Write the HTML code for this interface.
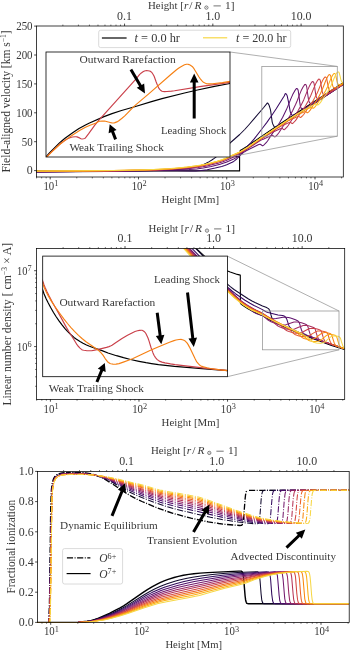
<!DOCTYPE html><html><head><meta charset="utf-8"><style>html,body{margin:0;padding:0;background:#fff;}svg{display:block;will-change:transform;}</style></head><body><svg width="350" height="651" viewBox="0 0 350 651" font-family="&apos;Liberation Serif&apos;, serif" fill="#383838">
<rect width="350" height="651" fill="#fff"/>
<defs><clipPath id="c1"><rect x="36.2" y="26" width="307.1" height="150.8"/></clipPath><clipPath id="c2"><rect x="36.1" y="248.5" width="308.6" height="150.8"/></clipPath><clipPath id="c3"><rect x="37.1" y="471.4" width="312.1" height="151"/></clipPath><clipPath id="i1"><rect x="46" y="52" width="184" height="105"/></clipPath><clipPath id="i2"><rect x="42.7" y="256.1" width="184.7" height="120.6"/></clipPath></defs>
<g clip-path="url(#c1)">
<path d="M230.0,156.6l9.6,.0l.0,14.3l-203.4,.0" fill="none" stroke="#000" stroke-width="1.1" stroke-linejoin="round" />
<path d="M239.6,155.6l.6,-5.1l3.5,-2.0l3.5,-2.2l13.5,-9.4l23.0,-15.4l59.5,-38.8" fill="none" stroke="#000" stroke-width="1.1" stroke-linejoin="round" />
<path d="M36.2,171.8l32.0,-.1l39.5,-.3l24.5,-.4l22.5,-.5l18.5,-.8l12.5,-1.0l3.0,-.3l3.0,-.6l3.5,-.7l3.5,-1.0l2.5,-.7l2.5,-1.0l2.5,-1.2l3.0,-1.6l3.0,-1.8l2.0,-1.4l2.0,-1.6l2.5,-2.2l4.5,-4.4l8.0,-8.2l8.5,-7.5l2.5,-2.5l2.5,-2.5l4.5,-5.0l5.0,-5.8l9.5,-11.2l3.5,-4.4l.5,.0l.5,.6l.5,.9l.5,1.0l1.0,3.3l.5,2.2l1.5,11.0l.5,1.6l1.0,2.2l.5,.7l.5,.4l.5,.0l1.0,-.1l1.5,-.5l2.0,-.9l3.5,-2.0l4.0,-2.5l12.5,-8.0l43.5,-28.5" fill="none" stroke="#140b34" stroke-width="1.05" stroke-linejoin="round" />
<path d="M36.2,172.3l40.5,-.7l81.5,-.9l19.0,.0l13.5,.3l5.0,.0l5.5,-.4l6.0,-.9l8.0,-1.6l6.5,-1.6l3.0,-.9l2.0,-.8l5.5,-2.5l1.0,-.5l1.5,-1.1l2.0,-1.7l4.0,-4.2l5.5,-7.1l5.0,-5.3l3.0,-3.5l9.0,-11.7l3.5,-4.6l5.0,-7.1l4.5,-6.8l7.5,-11.9l.5,-.9l1.0,-2.1l.5,-.2l.5,.4l.5,.7l.5,1.2l1.5,6.9l1.5,8.8l.5,1.4l1.0,1.7l.5,.5l.5,.2l.5,-.1l2.0,-.7l2.5,-1.1l5.0,-2.9l4.5,-2.7l36.0,-23.5" fill="none" stroke="#390963" stroke-width="1.05" stroke-linejoin="round" />
<path d="M36.2,171.9l73.0,-.7l22.0,-.3l39.5,-.9l18.5,-.6l7.5,-.5l6.5,-.8l8.0,-1.6l5.0,-1.2l4.0,-1.1l3.5,-1.1l2.5,-.8l7.5,-3.3l2.5,-1.4l4.0,-2.6l4.5,-3.3l1.5,-1.0l12.0,-5.9l1.5,-.6l.5,.0l.5,.3l1.5,1.2l.5,.1l1.0,-.7l1.0,-.9l1.5,-1.5l1.5,-2.0l4.0,-6.2l5.0,-7.0l3.0,-4.9l3.0,-5.4l3.5,-7.1l1.5,-3.5l3.0,-7.5l2.0,-4.5l2.0,-3.7l1.5,-2.1l.5,-.3l.5,.2l.5,.5l.5,1.3l1.0,7.1l.5,4.3l.5,3.2l.5,2.0l.5,1.2l.5,.2l1.0,.1l1.5,-.4l3.0,-1.3l4.5,-2.3l4.0,-2.3l27.5,-18.0" fill="none" stroke="#5f136e" stroke-width="1.05" stroke-linejoin="round" />
<path d="M36.2,171.7l65.0,-.5l19.5,-.3l31.0,-.6l20.0,-.7l17.0,-1.1l5.0,-.5l4.5,-.5l4.5,-.7l4.5,-.9l5.5,-1.3l5.5,-1.4l4.5,-1.4l3.5,-1.3l8.0,-3.8l3.5,-1.8l4.0,-2.3l17.0,-11.1l2.0,-1.1l2.0,-1.0l8.0,-3.6l1.5,-.5l.5,.0l1.5,1.3l.5,.3l.5,-.2l.5,-.4l2.0,-2.0l1.5,-2.0l3.5,-5.6l4.5,-6.5l3.0,-5.0l2.5,-4.7l3.0,-6.2l1.5,-3.6l2.5,-6.6l1.5,-3.5l2.0,-3.9l1.5,-2.1l.5,-.2l.5,.2l.5,.6l.5,1.6l1.5,10.9l.5,2.7l.5,1.7l.5,.9l1.0,.2l1.5,-.3l2.5,-1.0l3.0,-1.6l5.0,-2.7l2.5,-1.5l18.0,-11.8" fill="none" stroke="#84206b" stroke-width="1.05" stroke-linejoin="round" />
<path d="M36.2,171.5l38.0,-.2l40.5,-.4l34.0,-.7l16.0,-.6l8.0,-.5l7.0,-.5l9.0,-.9l7.0,-.8l5.0,-.8l4.5,-.9l5.5,-1.3l6.0,-1.6l5.0,-1.5l4.0,-1.5l6.0,-2.9l6.0,-2.5l3.0,-1.5l3.0,-1.7l3.0,-1.9l10.5,-7.1l4.0,-2.6l8.5,-5.2l3.5,-1.9l7.0,-3.2l1.5,-.5l.5,.1l1.5,1.2l.5,.1l.5,-.3l2.0,-2.0l1.5,-1.9l3.5,-5.5l4.0,-5.5l2.5,-4.0l2.5,-4.6l3.0,-6.0l4.0,-10.0l1.5,-3.3l1.5,-2.8l1.0,-1.5l.5,-.6l.5,-.1l.5,.2l.5,.6l.5,1.8l1.5,10.1l.5,2.1l.5,1.4l.5,.6l.5,.1l1.0,-.1l2.0,-.7l2.5,-1.2l4.0,-2.2l5.0,-2.9l11.0,-7.2" fill="none" stroke="#a82e5f" stroke-width="1.05" stroke-linejoin="round" />
<path d="M36.2,171.4l37.5,-.2l40.5,-.4l33.0,-.7l8.0,-.2l8.5,-.4l8.5,-.5l6.5,-.5l9.5,-.9l7.0,-.9l5.5,-.8l4.5,-.9l5.5,-1.3l6.0,-1.6l5.0,-1.5l4.0,-1.5l6.5,-3.1l6.5,-2.8l3.0,-1.5l3.0,-1.8l3.5,-2.2l13.5,-9.5l14.0,-8.9l3.0,-1.8l2.0,-1.1l3.0,-1.5l6.0,-2.6l.5,-.1l.5,.2l1.0,.9l.5,.3l.5,-.2l.5,-.4l2.0,-2.1l1.0,-1.3l3.0,-4.6l4.0,-5.5l2.5,-4.1l2.5,-4.5l2.5,-5.1l3.5,-8.7l1.5,-3.3l1.5,-2.8l1.0,-1.4l.5,-.5l.5,.0l.5,.3l.5,.8l.5,2.4l1.5,9.0l.5,1.6l.5,1.0l.5,.2l1.0,.0l1.0,-.3l2.0,-.8l2.0,-1.0l7.5,-4.3l6.0,-3.9" fill="none" stroke="#ca404a" stroke-width="1.05" stroke-linejoin="round" />
<path d="M36.2,171.3l37.0,-.2l40.5,-.4l31.5,-.6l9.0,-.3l8.5,-.4l8.5,-.5l6.5,-.5l10.0,-1.0l7.5,-.9l5.5,-.8l4.5,-.9l5.5,-1.3l6.0,-1.6l5.0,-1.5l4.0,-1.5l6.5,-3.1l6.5,-2.8l4.0,-2.1l5.5,-3.4l12.0,-8.5l13.0,-8.7l9.5,-6.1l4.5,-2.8l2.0,-1.1l3.0,-1.4l5.0,-2.2l1.0,-.4l.5,.0l1.5,1.1l.5,.0l.5,-.4l1.5,-1.4l1.0,-1.1l3.5,-5.3l3.5,-4.7l2.0,-3.1l2.0,-3.6l2.5,-4.8l1.0,-2.2l3.0,-7.4l1.0,-2.1l1.5,-2.7l1.0,-1.3l.5,-.3l.5,.1l.5,.3l.5,1.2l1.5,8.1l.5,1.9l.5,1.3l.5,.5l.5,.1l1.0,-.2l2.5,-1.0l3.5,-1.8l6.0,-3.5" fill="none" stroke="#e55c30" stroke-width="1.05" stroke-linejoin="round" />
<path d="M36.2,171.2l37.0,-.2l40.5,-.4l31.5,-.6l9.0,-.3l8.5,-.4l9.0,-.5l6.5,-.6l10.0,-1.0l7.5,-.9l5.0,-.8l5.0,-1.0l5.5,-1.3l6.0,-1.6l4.5,-1.4l4.0,-1.5l6.5,-3.1l7.0,-3.0l4.0,-2.2l5.0,-3.1l12.5,-8.8l20.5,-13.8l7.5,-4.8l7.5,-4.5l3.0,-1.5l6.0,-2.4l.5,.0l.5,.3l1.0,1.0l.5,-.1l1.0,-.9l1.5,-1.7l3.0,-4.8l3.0,-4.2l2.0,-3.3l2.0,-3.8l2.0,-4.2l3.5,-9.0l1.0,-2.3l1.0,-2.0l.5,-.8l.5,-.7l.5,-.4l.5,.1l.5,.2l.5,.9l1.0,4.8l.5,2.9l.5,2.2l.5,1.3l.5,.7l1.0,.0l1.5,-.4l3.0,-1.4l4.0,-2.2" fill="none" stroke="#f68013" stroke-width="1.05" stroke-linejoin="round" />
<path d="M36.2,171.1l37.0,-.2l40.5,-.4l30.5,-.6l9.5,-.3l8.5,-.4l9.0,-.5l6.0,-.5l10.5,-1.1l7.5,-1.0l5.5,-.8l4.5,-.9l5.5,-1.3l6.5,-1.7l4.5,-1.4l4.0,-1.5l6.5,-3.1l6.5,-2.8l3.0,-1.5l3.0,-1.8l3.5,-2.2l12.5,-8.8l25.5,-17.1l6.0,-3.9l6.5,-3.9l5.0,-2.9l7.0,-3.0l.5,-.2l.5,.0l1.0,.9l.5,.1l.5,-.3l1.5,-1.4l1.0,-1.3l2.5,-3.9l3.0,-4.0l2.0,-3.3l2.0,-3.6l2.0,-4.1l3.5,-8.5l1.5,-2.8l1.0,-1.4l.5,-.2l.5,.1l.5,.3l.5,1.3l1.5,6.9l.5,1.5l.5,.9l.5,.3l1.0,-.1l1.5,-.5l2.0,-1.0" fill="none" stroke="#fcaa0f" stroke-width="1.05" stroke-linejoin="round" />
<path d="M36.2,171.0l36.5,-.2l40.5,-.4l30.0,-.6l10.0,-.3l8.5,-.4l9.0,-.5l6.0,-.5l10.5,-1.1l8.0,-1.1l5.5,-.8l4.5,-.9l5.5,-1.3l6.5,-1.7l4.5,-1.4l4.0,-1.5l6.5,-3.1l6.5,-2.8l3.0,-1.5l3.0,-1.8l3.0,-1.9l13.0,-9.1l25.0,-16.7l9.0,-5.9l7.5,-4.6l6.5,-3.8l6.5,-2.8l1.0,-.3l1.5,1.0l.5,-.2l1.5,-1.5l1.0,-1.2l2.5,-3.8l3.0,-4.1l1.5,-2.4l1.5,-2.7l2.0,-3.9l1.0,-2.2l2.0,-5.0l1.5,-3.2l1.0,-1.7l.5,-.7l.5,-.4l.5,.0l.5,.1l.5,.7l1.0,3.9l.5,2.4l.5,1.7l.5,1.1l.5,.5l1.0,-.1" fill="none" stroke="#f6d746" stroke-width="1.05" stroke-linejoin="round" />
</g>
<rect x="261.8" y="66.4" width="75.5" height="69.8" stroke="#9a9a9a" stroke-width="0.8" fill="none" />
<line x1="230" y1="52" x2="337.3" y2="66.4" stroke="#9a9a9a" stroke-width="0.8" />
<line x1="230" y1="157" x2="337.3" y2="136.2" stroke="#9a9a9a" stroke-width="0.8" />
<rect x="46" y="52" width="184" height="105" stroke="none" stroke-width="0" fill="#fff" />
<g clip-path="url(#i1)">
<path d="M46.0,157.0l3.5,-4.0l3.0,-3.2l4.0,-4.0l3.0,-2.9l2.5,-2.2l3.0,-2.4l8.0,-5.8l3.0,-2.0l3.0,-1.9l6.5,-3.6l4.0,-2.0l14.5,-6.4l8.0,-3.0l9.5,-3.1l14.0,-4.0l16.0,-4.9l10.5,-2.9l22.5,-5.7l13.0,-3.0l17.0,-3.6l15.5,-2.9" fill="none" stroke="#000" stroke-width="1.2" stroke-linejoin="round" />
<path d="M46.0,157.5l5.5,-5.6l7.5,-7.1l2.0,-1.6l3.0,-2.2l2.0,-1.3l1.5,-.9l2.5,-1.1l1.5,-.5l1.0,-.2l2.5,-.2l1.0,.0l1.0,.1l2.5,1.0l1.5,.8l1.0,.3l1.5,-.2l1.0,-.3l.5,-.2l1.0,-1.1l2.5,-3.3l6.5,-9.1l3.5,-4.2l34.0,-37.8l4.0,-4.5l3.0,-3.7l1.5,-1.4l2.0,-1.4l1.5,-.8l1.0,-.3l1.0,-.1l1.5,.1l1.5,.3l1.0,.4l1.0,.8l.5,.5l1.0,1.5l1.0,1.8l.5,1.2l1.5,4.3l1.5,3.9l1.5,3.0l.5,.8l1.0,1.0l1.5,1.0l1.0,.3l1.5,.1l2.5,-.1l4.5,-.4l3.0,-.4l27.0,-4.3l28.5,-4.1" fill="none" stroke="#ca404a" stroke-width="1.15" stroke-linejoin="round" />
<path d="M46.0,157.8l5.0,-5.1l6.0,-5.7l3.0,-2.7l4.0,-3.2l5.5,-4.0l5.0,-3.4l5.5,-3.4l5.5,-3.0l4.5,-2.1l5.5,-2.0l3.0,-1.6l1.0,-.3l2.5,-.2l2.5,-.1l1.0,.2l5.5,1.5l1.0,.2l1.0,.1l1.0,-.1l1.0,-.3l2.5,-1.0l1.0,-.6l3.5,-2.7l2.5,-2.2l2.5,-2.5l6.0,-6.2l3.0,-2.8l13.0,-11.0l21.0,-18.4l6.5,-5.5l2.0,-1.5l2.0,-1.3l4.0,-2.1l1.0,-.3l1.0,-.3l1.5,.1l1.0,.3l1.0,.5l1.5,.9l1.0,.7l.5,.6l1.0,1.4l5.0,8.3l1.5,2.1l1.5,1.8l1.0,1.0l1.5,.9l1.0,.5l1.0,.3l2.0,.3l1.5,.0l2.5,-.1l10.0,-1.2l7.5,-1.3" fill="none" stroke="#f68013" stroke-width="1.15" stroke-linejoin="round" />
</g>
<rect x="46" y="52" width="184" height="105" stroke="#000" stroke-width="0.8" fill="none" />
<text x="79.5" y="62.6" font-size="11.4" text-anchor="start" textLength="96.1" lengthAdjust="spacingAndGlyphs" >Outward Rarefaction</text>
<text x="160.9" y="133.9" font-size="11.4" text-anchor="start" textLength="65.6" lengthAdjust="spacingAndGlyphs" >Leading Shock</text>
<text x="69.4" y="150.5" font-size="11.4" text-anchor="start" textLength="94.4" lengthAdjust="spacingAndGlyphs" >Weak Trailing Shock</text>
<polygon points="129.61,70.16 139.15,86.4 136.73,87.82 145,93.4 144.15,83.46 141.73,84.88 132.19,68.64" fill="#000"/>
<polygon points="195.7,118.4 195.7,82.4 198.5,82.4 194.2,73.4 189.9,82.4 192.7,82.4 192.7,118.4" fill="#000"/>
<polygon points="117,138.86 113.99,131.12 116.6,130.1 109.7,124.2 108.59,133.21 111.2,132.2 114.2,139.94" fill="#000"/>
<rect x="98.7" y="30.2" width="192" height="17.4" rx="2" ry="2" fill="#fff" fill-opacity="0.8" stroke="#d0d0d0" stroke-width="0.8"/>
<line x1="101.9" y1="38" x2="126.6" y2="38" stroke="#000" stroke-width="1.2" />
<line x1="203" y1="37.8" x2="227.2" y2="37.8" stroke="#f6d746" stroke-width="1.2" />
<text x="134.6" y="42.0" font-size="11.6" textLength="45.4" lengthAdjust="spacingAndGlyphs"><tspan font-style="italic">t</tspan> = 0.0 hr</text>
<text x="236.0" y="42.0" font-size="11.6" textLength="50.5" lengthAdjust="spacingAndGlyphs"><tspan font-style="italic">t</tspan> = 20.0 hr</text>
<rect x="36.5" y="26" width="306.8" height="151" stroke="#000" stroke-width="0.75" fill="none" />
<line x1="36.53" y1="177" x2="36.53" y2="178.4" stroke="#000" stroke-width="0.55" />
<line x1="41.65" y1="177" x2="41.65" y2="178.4" stroke="#000" stroke-width="0.55" />
<line x1="46.16" y1="177" x2="46.16" y2="178.4" stroke="#000" stroke-width="0.55" />
<line x1="50.2" y1="177" x2="50.2" y2="179.4" stroke="#000" stroke-width="0.7" />
<line x1="76.77" y1="177" x2="76.77" y2="178.4" stroke="#000" stroke-width="0.55" />
<line x1="92.32" y1="177" x2="92.32" y2="178.4" stroke="#000" stroke-width="0.55" />
<line x1="103.34" y1="177" x2="103.34" y2="178.4" stroke="#000" stroke-width="0.55" />
<line x1="111.9" y1="177" x2="111.9" y2="178.4" stroke="#000" stroke-width="0.55" />
<line x1="118.89" y1="177" x2="118.89" y2="178.4" stroke="#000" stroke-width="0.55" />
<line x1="124.8" y1="177" x2="124.8" y2="178.4" stroke="#000" stroke-width="0.55" />
<line x1="129.92" y1="177" x2="129.92" y2="178.4" stroke="#000" stroke-width="0.55" />
<line x1="134.43" y1="177" x2="134.43" y2="178.4" stroke="#000" stroke-width="0.55" />
<line x1="138.47" y1="177" x2="138.47" y2="179.4" stroke="#000" stroke-width="0.7" />
<line x1="165.04" y1="177" x2="165.04" y2="178.4" stroke="#000" stroke-width="0.55" />
<line x1="180.59" y1="177" x2="180.59" y2="178.4" stroke="#000" stroke-width="0.55" />
<line x1="191.61" y1="177" x2="191.61" y2="178.4" stroke="#000" stroke-width="0.55" />
<line x1="200.17" y1="177" x2="200.17" y2="178.4" stroke="#000" stroke-width="0.55" />
<line x1="207.16" y1="177" x2="207.16" y2="178.4" stroke="#000" stroke-width="0.55" />
<line x1="213.07" y1="177" x2="213.07" y2="178.4" stroke="#000" stroke-width="0.55" />
<line x1="218.19" y1="177" x2="218.19" y2="178.4" stroke="#000" stroke-width="0.55" />
<line x1="222.7" y1="177" x2="222.7" y2="178.4" stroke="#000" stroke-width="0.55" />
<line x1="226.74" y1="177" x2="226.74" y2="179.4" stroke="#000" stroke-width="0.7" />
<line x1="253.31" y1="177" x2="253.31" y2="178.4" stroke="#000" stroke-width="0.55" />
<line x1="268.86" y1="177" x2="268.86" y2="178.4" stroke="#000" stroke-width="0.55" />
<line x1="279.88" y1="177" x2="279.88" y2="178.4" stroke="#000" stroke-width="0.55" />
<line x1="288.44" y1="177" x2="288.44" y2="178.4" stroke="#000" stroke-width="0.55" />
<line x1="295.43" y1="177" x2="295.43" y2="178.4" stroke="#000" stroke-width="0.55" />
<line x1="301.34" y1="177" x2="301.34" y2="178.4" stroke="#000" stroke-width="0.55" />
<line x1="306.46" y1="177" x2="306.46" y2="178.4" stroke="#000" stroke-width="0.55" />
<line x1="310.97" y1="177" x2="310.97" y2="178.4" stroke="#000" stroke-width="0.55" />
<line x1="315.01" y1="177" x2="315.01" y2="179.4" stroke="#000" stroke-width="0.7" />
<line x1="341.58" y1="177" x2="341.58" y2="178.4" stroke="#000" stroke-width="0.55" />
<line x1="62.86" y1="26" x2="62.86" y2="24.6" stroke="#000" stroke-width="0.55" />
<line x1="78.41" y1="26" x2="78.41" y2="24.6" stroke="#000" stroke-width="0.55" />
<line x1="89.43" y1="26" x2="89.43" y2="24.6" stroke="#000" stroke-width="0.55" />
<line x1="97.99" y1="26" x2="97.99" y2="24.6" stroke="#000" stroke-width="0.55" />
<line x1="104.98" y1="26" x2="104.98" y2="24.6" stroke="#000" stroke-width="0.55" />
<line x1="110.89" y1="26" x2="110.89" y2="24.6" stroke="#000" stroke-width="0.55" />
<line x1="116.01" y1="26" x2="116.01" y2="24.6" stroke="#000" stroke-width="0.55" />
<line x1="120.52" y1="26" x2="120.52" y2="24.6" stroke="#000" stroke-width="0.55" />
<line x1="124.56" y1="26" x2="124.56" y2="23.6" stroke="#000" stroke-width="0.7" />
<line x1="151.13" y1="26" x2="151.13" y2="24.6" stroke="#000" stroke-width="0.55" />
<line x1="166.68" y1="26" x2="166.68" y2="24.6" stroke="#000" stroke-width="0.55" />
<line x1="177.7" y1="26" x2="177.7" y2="24.6" stroke="#000" stroke-width="0.55" />
<line x1="186.26" y1="26" x2="186.26" y2="24.6" stroke="#000" stroke-width="0.55" />
<line x1="193.25" y1="26" x2="193.25" y2="24.6" stroke="#000" stroke-width="0.55" />
<line x1="199.16" y1="26" x2="199.16" y2="24.6" stroke="#000" stroke-width="0.55" />
<line x1="204.28" y1="26" x2="204.28" y2="24.6" stroke="#000" stroke-width="0.55" />
<line x1="208.79" y1="26" x2="208.79" y2="24.6" stroke="#000" stroke-width="0.55" />
<line x1="212.83" y1="26" x2="212.83" y2="23.6" stroke="#000" stroke-width="0.7" />
<line x1="239.4" y1="26" x2="239.4" y2="24.6" stroke="#000" stroke-width="0.55" />
<line x1="254.95" y1="26" x2="254.95" y2="24.6" stroke="#000" stroke-width="0.55" />
<line x1="265.97" y1="26" x2="265.97" y2="24.6" stroke="#000" stroke-width="0.55" />
<line x1="274.53" y1="26" x2="274.53" y2="24.6" stroke="#000" stroke-width="0.55" />
<line x1="281.52" y1="26" x2="281.52" y2="24.6" stroke="#000" stroke-width="0.55" />
<line x1="287.43" y1="26" x2="287.43" y2="24.6" stroke="#000" stroke-width="0.55" />
<line x1="292.55" y1="26" x2="292.55" y2="24.6" stroke="#000" stroke-width="0.55" />
<line x1="297.06" y1="26" x2="297.06" y2="24.6" stroke="#000" stroke-width="0.55" />
<line x1="301.1" y1="26" x2="301.1" y2="23.6" stroke="#000" stroke-width="0.7" />
<line x1="327.67" y1="26" x2="327.67" y2="24.6" stroke="#000" stroke-width="0.55" />
<line x1="36.5" y1="170.6" x2="34.1" y2="170.6" stroke="#000" stroke-width="0.7" />
<text x="32.6" y="174.4" font-size="11.9" text-anchor="end" >0</text>
<line x1="36.5" y1="141.7" x2="34.1" y2="141.7" stroke="#000" stroke-width="0.7" />
<text x="32.6" y="145.5" font-size="11.9" text-anchor="end" textLength="10.9" lengthAdjust="spacingAndGlyphs" >50</text>
<line x1="36.5" y1="112.8" x2="34.1" y2="112.8" stroke="#000" stroke-width="0.7" />
<text x="32.6" y="116.6" font-size="11.9" text-anchor="end" textLength="16.4" lengthAdjust="spacingAndGlyphs" >100</text>
<line x1="36.5" y1="83.9" x2="34.1" y2="83.9" stroke="#000" stroke-width="0.7" />
<text x="32.6" y="87.7" font-size="11.9" text-anchor="end" textLength="16.4" lengthAdjust="spacingAndGlyphs" >150</text>
<line x1="36.5" y1="55" x2="34.1" y2="55" stroke="#000" stroke-width="0.7" />
<text x="32.6" y="58.8" font-size="11.9" text-anchor="end" textLength="16.4" lengthAdjust="spacingAndGlyphs" >200</text>
<line x1="36.5" y1="26.1" x2="34.1" y2="26.1" stroke="#000" stroke-width="0.7" />
<text x="32.6" y="29.9" font-size="11.9" text-anchor="end" textLength="16.4" lengthAdjust="spacingAndGlyphs" >250</text>
<text x="54.2" y="189.9" font-size="11.9" text-anchor="end" textLength="10.8" lengthAdjust="spacingAndGlyphs">10</text>
<text x="54.3" y="186.3" font-size="8.3">1</text>
<text x="142.47" y="189.9" font-size="11.9" text-anchor="end" textLength="10.8" lengthAdjust="spacingAndGlyphs">10</text>
<text x="142.57" y="186.3" font-size="8.3">2</text>
<text x="230.74" y="189.9" font-size="11.9" text-anchor="end" textLength="10.8" lengthAdjust="spacingAndGlyphs">10</text>
<text x="230.84" y="186.3" font-size="8.3">3</text>
<text x="319.01" y="189.9" font-size="11.9" text-anchor="end" textLength="10.8" lengthAdjust="spacingAndGlyphs">10</text>
<text x="319.11" y="186.3" font-size="8.3">4</text>
<text x="124.56" y="19.6" font-size="11.9" text-anchor="middle" >0.1</text>
<text x="212.83" y="19.6" font-size="11.9" text-anchor="middle" >1.0</text>
<text x="301.1" y="19.6" font-size="11.9" text-anchor="middle" >10.0</text>
<text x="148" y="8.6" font-size="11.4" textLength="35.8" lengthAdjust="spacingAndGlyphs">Height [</text>
<text x="183.9" y="8.6" font-size="11.4" font-style="italic">r</text>
<text x="189.3" y="8.6" font-size="11.4">/</text>
<text x="194.5" y="8.6" font-size="11.4" font-style="italic">R</text>
<circle cx="206.4" cy="7.6" r="1.65" fill="none" stroke="#3a3a3a" stroke-width="0.65"/>
<circle cx="206.4" cy="7.6" r="0.45" fill="#3a3a3a"/>
<line x1="213.5" y1="5.9" x2="220.8" y2="5.9" stroke="#3a3a3a" stroke-width="0.7"/>
<text x="225" y="8.6" font-size="11.4">1]</text>
<text x="161.6" y="202.6" font-size="11.4" text-anchor="start" textLength="57.4" lengthAdjust="spacingAndGlyphs" >Height [Mm]</text>
<text transform="translate(9.9,172.5) rotate(-90)" font-size="11.6" textLength="142" lengthAdjust="spacingAndGlyphs">Field-aligned velocity [km s<tspan font-size="7.5" dy="-4">&#x2212;1</tspan><tspan dy="4">]</tspan></text>
<g clip-path="url(#c2)">
<path d="M186.0,238.5l7.5,7.4l9.1,8.5l2.0,1.7l3.0,2.3l5.6,4.0l8.0,5.2l2.5,1.5l2.5,1.3l4.0,1.7l3.6,1.2l3.5,1.1l3.0,.7l.1,27.4l.1,1.1l2.5,1.9l5.0,3.2l5.0,2.8l9.0,4.1l9.0,4.8l5.5,2.8l7.0,3.2l13.5,6.1l9.5,3.8l11.5,4.3l13.5,4.8l13.0,4.2" fill="none" stroke="#000" stroke-width="1.1" stroke-linejoin="round" />
<path d="M170.0,220.4l5.0,5.3l5.0,5.4l11.5,13.0l14.0,14.5l4.0,4.7l10.0,12.4l3.5,4.0l3.0,3.1l4.0,3.6l4.0,3.1l14.5,9.5l3.5,2.0l3.0,1.5l7.5,3.5l3.5,1.2l2.5,1.4l1.0,1.4l.5,1.2l1.5,5.6l.5,1.4l1.0,1.7l.5,.5l3.0,2.0l3.0,1.4l16.0,7.3l7.5,3.1l9.0,3.5l11.0,4.0l11.0,3.7l10.5,3.4" fill="none" stroke="#140b34" stroke-width="1.05" stroke-linejoin="round" />
<path d="M170.0,224.5l10.0,10.6l11.0,12.3l12.5,12.9l4.0,4.5l9.5,11.3l5.0,5.5l3.5,3.6l3.0,2.8l3.5,3.0l3.5,2.7l9.5,6.5l5.0,3.1l4.0,2.2l7.5,3.6l5.0,2.9l1.5,.6l2.0,.5l8.0,1.8l4.5,.6l1.0,.3l1.0,.4l1.0,1.0l1.0,1.4l.5,1.2l2.0,6.1l.5,1.0l1.0,1.1l1.0,.9l2.5,1.3l3.5,1.7l3.0,1.3l6.5,2.6l7.0,2.6l16.0,5.7l14.5,4.7" fill="none" stroke="#390963" stroke-width="1.05" stroke-linejoin="round" />
<path d="M170.0,227.0l10.0,10.6l10.5,11.7l11.5,12.0l13.5,15.0l6.0,6.3l4.5,4.4l14.0,13.2l3.0,2.7l4.0,3.4l4.5,4.1l2.0,1.6l1.5,.9l2.5,1.1l4.5,1.5l5.0,1.9l2.0,.6l2.0,.4l2.0,.3l1.5,.1l1.5,-.2l3.0,-.7l4.0,-.6l1.5,-.1l1.0,.0l3.0,.4l2.0,.5l1.5,.4l3.5,1.3l2.0,.9l.5,.3l1.0,1.1l.5,1.1l1.0,3.7l1.0,3.1l.5,1.3l.5,.9l.5,.7l.5,.5l2.0,1.1l2.0,.9l11.5,4.4l13.0,4.6l12.5,4.2" fill="none" stroke="#5f136e" stroke-width="1.05" stroke-linejoin="round" />
<path d="M170.0,228.0l10.0,10.6l10.5,11.7l11.5,11.9l15.0,16.3l6.5,6.6l9.0,8.5l2.5,2.3l2.5,2.1l3.0,2.4l2.5,1.9l3.5,2.3l11.5,7.1l3.0,2.0l1.5,1.3l3.5,3.4l2.0,1.6l3.0,1.7l4.0,1.6l3.0,1.0l3.0,.6l3.0,.1l1.5,-.1l1.0,-.3l3.0,-1.1l3.0,-1.0l1.5,-.4l1.0,-.1l2.5,.1l2.5,.3l1.5,.4l3.5,1.2l1.0,.4l.5,.3l1.0,1.1l.5,1.1l1.0,3.7l1.0,3.1l1.0,2.1l.5,.7l.5,.4l3.5,1.6l8.0,3.0l11.0,3.8l10.0,3.4" fill="none" stroke="#84206b" stroke-width="1.05" stroke-linejoin="round" />
<path d="M170.0,229.1l10.0,10.5l11.0,12.3l11.0,11.2l11.5,12.3l5.5,5.7l5.5,5.4l10.0,9.4l5.0,4.2l4.5,3.3l3.5,2.3l4.0,2.3l3.0,1.5l5.5,2.4l3.0,1.8l3.0,2.1l5.0,3.9l4.5,4.4l1.5,1.2l1.0,.7l1.5,.7l3.0,1.2l3.5,1.1l2.0,.3l2.5,.2l2.5,-.1l1.5,-.4l3.5,-1.6l4.0,-1.5l1.0,-.3l1.5,-.1l2.0,.0l2.0,.3l3.0,.9l2.0,.7l.5,.3l1.0,1.1l.5,1.3l1.0,3.7l1.0,3.0l1.0,1.9l.5,.7l.5,.4l3.0,1.4l4.0,1.4l9.0,3.1l9.0,3.0" fill="none" stroke="#a82e5f" stroke-width="1.05" stroke-linejoin="round" />
<path d="M170.0,230.0l10.0,10.6l11.0,12.2l11.0,11.2l11.0,11.5l5.0,5.1l6.0,5.8l10.5,9.9l5.0,4.2l4.5,3.3l3.5,2.3l4.0,2.3l2.5,1.2l6.0,2.7l2.5,1.2l7.5,4.4l4.5,2.9l5.5,4.0l1.5,1.3l2.5,2.4l1.5,1.3l1.5,.9l2.0,.8l2.5,.7l3.0,.8l1.5,.2l2.0,.0l2.0,-.2l1.5,-.3l1.0,-.5l2.5,-1.4l3.5,-1.8l1.0,-.4l1.0,-.2l2.5,-.1l2.0,.1l3.0,.8l2.0,.7l1.0,.9l.5,.8l1.5,5.1l1.0,2.9l1.0,1.8l.5,.5l1.5,.8l2.5,1.0l15.0,5.0" fill="none" stroke="#ca404a" stroke-width="1.05" stroke-linejoin="round" />
<path d="M170.0,231.0l10.0,10.6l11.5,12.7l25.0,25.4l6.0,5.8l12.0,11.2l5.0,4.2l4.5,3.3l3.5,2.3l4.0,2.3l2.5,1.2l8.5,3.9l9.0,5.1l10.0,5.3l3.0,1.9l4.5,3.1l1.5,1.2l2.5,2.5l1.5,1.2l1.0,.5l1.5,.6l2.0,.6l3.0,.6l1.5,.1l2.0,.0l2.0,-.3l1.5,-.4l1.0,-.6l2.5,-1.7l3.0,-1.7l1.0,-.5l1.0,-.3l2.0,-.2l2.0,.0l2.5,.5l2.0,.6l.5,.3l.5,.5l.5,.5l.5,1.0l1.0,3.7l1.0,3.1l.5,1.2l.5,.8l.5,.8l.5,.4l1.5,.7l2.0,.8l9.0,2.9" fill="none" stroke="#e55c30" stroke-width="1.05" stroke-linejoin="round" />
<path d="M170.0,232.0l9.5,10.0l4.5,4.9l5.5,6.2l2.5,2.7l23.0,23.0l6.0,5.7l13.5,12.6l5.5,4.6l4.5,3.2l4.0,2.6l4.0,2.2l9.5,4.3l9.0,5.1l3.5,1.8l6.0,3.0l8.5,4.0l1.5,.8l3.0,1.8l4.0,2.8l1.0,.8l2.5,2.5l1.0,.8l1.0,.6l1.0,.4l2.0,.5l3.0,.4l1.5,.1l1.5,-.2l1.5,-.4l1.5,-.5l1.0,-.7l2.0,-1.6l2.5,-1.9l1.0,-.6l1.0,-.5l2.0,-.4l1.5,.0l2.0,.3l2.0,.6l.5,.2l.5,.4l.5,.6l.5,.8l1.0,3.6l1.0,3.1l.5,1.3l1.0,1.7l.5,.5l3.0,1.3l5.5,1.8" fill="none" stroke="#f68013" stroke-width="1.05" stroke-linejoin="round" />
<path d="M170.0,233.0l9.5,10.0l4.5,4.9l5.5,6.2l2.5,2.6l4.5,4.6l15.0,14.7l7.0,6.7l16.0,14.8l5.5,4.6l4.5,3.2l4.0,2.6l3.5,1.9l2.5,1.2l7.5,3.4l8.5,4.7l3.5,1.8l8.0,3.9l15.0,6.9l3.0,1.8l3.5,2.3l1.0,.8l3.0,2.9l1.0,.7l1.0,.5l2.0,.5l3.0,.3l1.5,.1l1.5,-.3l1.5,-.4l1.5,-.6l1.0,-.7l2.0,-1.8l2.5,-2.0l1.5,-.9l2.0,-.4l1.5,-.1l2.0,.3l2.0,.5l.5,.3l1.0,1.1l.5,1.1l1.0,3.6l1.0,3.1l1.0,1.9l.5,.7l.5,.4l1.5,.7l2.0,.7" fill="none" stroke="#fcaa0f" stroke-width="1.05" stroke-linejoin="round" />
<path d="M170.0,233.9l10.0,10.6l11.5,12.7l5.5,5.5l10.5,10.2l8.5,8.0l11.5,10.5l7.0,6.5l6.0,5.0l4.5,3.2l3.5,2.2l3.5,1.9l2.5,1.2l7.5,3.4l8.5,4.6l4.0,2.0l10.5,4.9l17.5,7.8l3.0,1.8l3.5,2.3l3.5,3.3l1.0,.7l1.0,.4l2.0,.4l3.0,.3l1.0,.0l1.5,-.3l1.5,-.5l1.5,-.7l5.0,-4.4l1.5,-1.0l2.0,-.5l1.5,-.2l2.5,.5l1.5,.4l1.0,1.0l.5,.7l1.0,3.6l1.5,4.4l1.0,1.6l.5,.6" fill="none" stroke="#f6d746" stroke-width="1.05" stroke-linejoin="round" />
</g>
<rect x="262.4" y="311" width="76.6" height="38.8" stroke="#9a9a9a" stroke-width="0.8" fill="none" />
<line x1="227.4" y1="256.1" x2="339" y2="311" stroke="#9a9a9a" stroke-width="0.8" />
<line x1="227.4" y1="376.7" x2="339" y2="349.8" stroke="#9a9a9a" stroke-width="0.8" />
<rect x="42.7" y="256.1" width="184.7" height="120.6" stroke="none" stroke-width="0" fill="#fff" />
<g clip-path="url(#i2)">
<path d="M42.0,288.5l.5,1.0l1.5,4.3l2.0,4.6l2.0,4.1l2.5,4.7l3.0,5.3l2.5,4.0l3.0,4.4l3.0,4.0l3.0,3.7l2.5,2.7l3.5,3.5l3.0,2.6l2.5,1.9l3.5,2.3l3.0,1.7l3.5,1.7l3.0,1.3l4.0,1.5l8.5,2.8l6.0,2.4l8.5,2.7l7.0,2.0l7.0,1.8l8.5,1.8l7.0,1.4l5.5,.9l7.0,1.0l16.0,1.8l27.5,2.3l26.0,2.0" fill="none" stroke="#000" stroke-width="1.2" stroke-linejoin="round" />
<path d="M42.0,279.3l.5,1.2l1.5,4.3l1.0,2.4l2.0,4.5l2.0,4.1l3.5,6.7l6.5,11.4l7.5,13.7l2.5,4.2l5.0,7.9l3.0,5.0l1.0,1.3l2.0,2.1l1.5,1.3l1.0,.6l1.5,.3l3.0,.4l3.0,.1l1.5,-.1l2.0,-.3l8.0,-1.8l5.0,-1.2l2.5,-.8l2.0,-.8l1.0,-.5l4.0,-2.8l6.0,-3.9l5.5,-3.3l5.5,-2.9l2.0,-.9l2.5,-.7l2.0,-.4l2.0,-.2l.5,.1l1.0,.4l1.5,1.1l.5,.5l1.0,1.5l2.0,4.2l1.0,2.9l2.0,6.6l2.0,5.4l1.0,2.3l1.5,2.4l1.5,1.8l1.5,1.1l1.5,.9l2.0,.7l3.0,.8l5.5,1.0l4.5,.7l36.0,4.3l17.0,1.8" fill="none" stroke="#ca404a" stroke-width="1.15" stroke-linejoin="round" />
<path d="M42.0,281.6l.5,1.1l1.5,4.4l2.0,4.5l2.0,3.8l3.5,6.0l3.0,4.6l5.0,7.0l4.5,6.1l3.5,4.4l3.5,4.1l3.5,3.8l4.0,3.9l3.5,3.2l4.0,3.2l9.5,6.6l3.5,2.6l1.5,1.3l1.0,1.1l1.5,1.8l2.0,3.2l2.5,3.4l1.0,.8l1.5,1.0l1.0,.3l2.0,.3l1.5,.1l1.5,-.1l3.0,-.5l5.0,-1.7l4.5,-1.6l4.0,-1.6l18.0,-8.4l7.0,-3.1l12.0,-5.0l4.5,-1.6l2.0,-.6l3.0,-.5l2.0,-.1l1.5,.3l2.0,.9l1.0,.7l1.5,1.6l1.0,1.5l1.5,2.7l5.5,11.5l1.5,2.8l.5,.7l1.5,1.8l1.0,1.0l1.0,.8l1.5,.7l1.5,.5l3.5,.9l3.5,.7l9.5,1.4l8.0,.8" fill="none" stroke="#f68013" stroke-width="1.15" stroke-linejoin="round" />
</g>
<rect x="42.7" y="256.1" width="184.7" height="120.6" stroke="#000" stroke-width="0.8" fill="none" />
<text x="59.4" y="305.7" font-size="11.4" text-anchor="start" textLength="95.9" lengthAdjust="spacingAndGlyphs" >Outward Rarefaction</text>
<text x="154" y="282.6" font-size="11.4" text-anchor="start" textLength="66.1" lengthAdjust="spacingAndGlyphs" >Leading Shock</text>
<text x="48.8" y="392.1" font-size="11.4" text-anchor="start" textLength="95.2" lengthAdjust="spacingAndGlyphs" >Weak Trailing Shock</text>
<polygon points="155.71,312.99 158.65,335.57 155.87,335.93 161.3,344.3 164.4,334.82 161.63,335.18 158.69,312.61" fill="#000"/>
<polygon points="186.01,292.67 191.28,338.23 188.49,338.55 193.8,347 197.04,337.57 194.26,337.89 188.99,292.33" fill="#000"/>
<polygon points="98.29,382.58 103.11,370.96 105.7,372.04 104.8,363 97.76,368.74 100.34,369.81 95.51,381.42" fill="#000"/>
<rect x="36.5" y="248.5" width="308.2" height="150.9" stroke="#000" stroke-width="0.75" fill="none" />
<line x1="36.68" y1="399.3" x2="36.68" y2="400.7" stroke="#000" stroke-width="0.55" />
<line x1="41.82" y1="399.3" x2="41.82" y2="400.7" stroke="#000" stroke-width="0.55" />
<line x1="46.35" y1="399.3" x2="46.35" y2="400.7" stroke="#000" stroke-width="0.55" />
<line x1="50.4" y1="399.3" x2="50.4" y2="401.7" stroke="#000" stroke-width="0.7" />
<line x1="77.06" y1="399.3" x2="77.06" y2="400.7" stroke="#000" stroke-width="0.55" />
<line x1="92.66" y1="399.3" x2="92.66" y2="400.7" stroke="#000" stroke-width="0.55" />
<line x1="103.72" y1="399.3" x2="103.72" y2="400.7" stroke="#000" stroke-width="0.55" />
<line x1="112.31" y1="399.3" x2="112.31" y2="400.7" stroke="#000" stroke-width="0.55" />
<line x1="119.32" y1="399.3" x2="119.32" y2="400.7" stroke="#000" stroke-width="0.55" />
<line x1="125.25" y1="399.3" x2="125.25" y2="400.7" stroke="#000" stroke-width="0.55" />
<line x1="130.39" y1="399.3" x2="130.39" y2="400.7" stroke="#000" stroke-width="0.55" />
<line x1="134.92" y1="399.3" x2="134.92" y2="400.7" stroke="#000" stroke-width="0.55" />
<line x1="138.97" y1="399.3" x2="138.97" y2="401.7" stroke="#000" stroke-width="0.7" />
<line x1="165.63" y1="399.3" x2="165.63" y2="400.7" stroke="#000" stroke-width="0.55" />
<line x1="181.23" y1="399.3" x2="181.23" y2="400.7" stroke="#000" stroke-width="0.55" />
<line x1="192.29" y1="399.3" x2="192.29" y2="400.7" stroke="#000" stroke-width="0.55" />
<line x1="200.88" y1="399.3" x2="200.88" y2="400.7" stroke="#000" stroke-width="0.55" />
<line x1="207.89" y1="399.3" x2="207.89" y2="400.7" stroke="#000" stroke-width="0.55" />
<line x1="213.82" y1="399.3" x2="213.82" y2="400.7" stroke="#000" stroke-width="0.55" />
<line x1="218.96" y1="399.3" x2="218.96" y2="400.7" stroke="#000" stroke-width="0.55" />
<line x1="223.49" y1="399.3" x2="223.49" y2="400.7" stroke="#000" stroke-width="0.55" />
<line x1="227.54" y1="399.3" x2="227.54" y2="401.7" stroke="#000" stroke-width="0.7" />
<line x1="254.2" y1="399.3" x2="254.2" y2="400.7" stroke="#000" stroke-width="0.55" />
<line x1="269.8" y1="399.3" x2="269.8" y2="400.7" stroke="#000" stroke-width="0.55" />
<line x1="280.86" y1="399.3" x2="280.86" y2="400.7" stroke="#000" stroke-width="0.55" />
<line x1="289.45" y1="399.3" x2="289.45" y2="400.7" stroke="#000" stroke-width="0.55" />
<line x1="296.46" y1="399.3" x2="296.46" y2="400.7" stroke="#000" stroke-width="0.55" />
<line x1="302.39" y1="399.3" x2="302.39" y2="400.7" stroke="#000" stroke-width="0.55" />
<line x1="307.53" y1="399.3" x2="307.53" y2="400.7" stroke="#000" stroke-width="0.55" />
<line x1="312.06" y1="399.3" x2="312.06" y2="400.7" stroke="#000" stroke-width="0.55" />
<line x1="316.11" y1="399.3" x2="316.11" y2="401.7" stroke="#000" stroke-width="0.7" />
<line x1="342.77" y1="399.3" x2="342.77" y2="400.7" stroke="#000" stroke-width="0.55" />
<line x1="63.11" y1="248.5" x2="63.11" y2="247.1" stroke="#000" stroke-width="0.55" />
<line x1="78.7" y1="248.5" x2="78.7" y2="247.1" stroke="#000" stroke-width="0.55" />
<line x1="89.77" y1="248.5" x2="89.77" y2="247.1" stroke="#000" stroke-width="0.55" />
<line x1="98.35" y1="248.5" x2="98.35" y2="247.1" stroke="#000" stroke-width="0.55" />
<line x1="105.36" y1="248.5" x2="105.36" y2="247.1" stroke="#000" stroke-width="0.55" />
<line x1="111.29" y1="248.5" x2="111.29" y2="247.1" stroke="#000" stroke-width="0.55" />
<line x1="116.43" y1="248.5" x2="116.43" y2="247.1" stroke="#000" stroke-width="0.55" />
<line x1="120.96" y1="248.5" x2="120.96" y2="247.1" stroke="#000" stroke-width="0.55" />
<line x1="125.01" y1="248.5" x2="125.01" y2="246.1" stroke="#000" stroke-width="0.7" />
<line x1="151.68" y1="248.5" x2="151.68" y2="247.1" stroke="#000" stroke-width="0.55" />
<line x1="167.27" y1="248.5" x2="167.27" y2="247.1" stroke="#000" stroke-width="0.55" />
<line x1="178.34" y1="248.5" x2="178.34" y2="247.1" stroke="#000" stroke-width="0.55" />
<line x1="186.92" y1="248.5" x2="186.92" y2="247.1" stroke="#000" stroke-width="0.55" />
<line x1="193.93" y1="248.5" x2="193.93" y2="247.1" stroke="#000" stroke-width="0.55" />
<line x1="199.86" y1="248.5" x2="199.86" y2="247.1" stroke="#000" stroke-width="0.55" />
<line x1="205" y1="248.5" x2="205" y2="247.1" stroke="#000" stroke-width="0.55" />
<line x1="209.53" y1="248.5" x2="209.53" y2="247.1" stroke="#000" stroke-width="0.55" />
<line x1="213.58" y1="248.5" x2="213.58" y2="246.1" stroke="#000" stroke-width="0.7" />
<line x1="240.25" y1="248.5" x2="240.25" y2="247.1" stroke="#000" stroke-width="0.55" />
<line x1="255.84" y1="248.5" x2="255.84" y2="247.1" stroke="#000" stroke-width="0.55" />
<line x1="266.91" y1="248.5" x2="266.91" y2="247.1" stroke="#000" stroke-width="0.55" />
<line x1="275.49" y1="248.5" x2="275.49" y2="247.1" stroke="#000" stroke-width="0.55" />
<line x1="282.5" y1="248.5" x2="282.5" y2="247.1" stroke="#000" stroke-width="0.55" />
<line x1="288.43" y1="248.5" x2="288.43" y2="247.1" stroke="#000" stroke-width="0.55" />
<line x1="293.57" y1="248.5" x2="293.57" y2="247.1" stroke="#000" stroke-width="0.55" />
<line x1="298.1" y1="248.5" x2="298.1" y2="247.1" stroke="#000" stroke-width="0.55" />
<line x1="302.15" y1="248.5" x2="302.15" y2="246.1" stroke="#000" stroke-width="0.7" />
<line x1="328.82" y1="248.5" x2="328.82" y2="247.1" stroke="#000" stroke-width="0.55" />
<line x1="36.5" y1="386.29" x2="35.1" y2="386.29" stroke="#000" stroke-width="0.55" />
<line x1="36.5" y1="376.8" x2="35.1" y2="376.8" stroke="#000" stroke-width="0.55" />
<line x1="36.5" y1="369.45" x2="35.1" y2="369.45" stroke="#000" stroke-width="0.55" />
<line x1="36.5" y1="363.44" x2="35.1" y2="363.44" stroke="#000" stroke-width="0.55" />
<line x1="36.5" y1="358.36" x2="35.1" y2="358.36" stroke="#000" stroke-width="0.55" />
<line x1="36.5" y1="353.96" x2="35.1" y2="353.96" stroke="#000" stroke-width="0.55" />
<line x1="36.5" y1="350.07" x2="35.1" y2="350.07" stroke="#000" stroke-width="0.55" />
<line x1="36.5" y1="346.6" x2="34.1" y2="346.6" stroke="#000" stroke-width="0.7" />
<line x1="36.5" y1="323.75" x2="35.1" y2="323.75" stroke="#000" stroke-width="0.55" />
<line x1="36.5" y1="310.39" x2="35.1" y2="310.39" stroke="#000" stroke-width="0.55" />
<line x1="36.5" y1="300.9" x2="35.1" y2="300.9" stroke="#000" stroke-width="0.55" />
<line x1="36.5" y1="293.55" x2="35.1" y2="293.55" stroke="#000" stroke-width="0.55" />
<line x1="36.5" y1="287.54" x2="35.1" y2="287.54" stroke="#000" stroke-width="0.55" />
<line x1="36.5" y1="282.46" x2="35.1" y2="282.46" stroke="#000" stroke-width="0.55" />
<line x1="36.5" y1="278.06" x2="35.1" y2="278.06" stroke="#000" stroke-width="0.55" />
<line x1="36.5" y1="274.17" x2="35.1" y2="274.17" stroke="#000" stroke-width="0.55" />
<line x1="36.5" y1="270.7" x2="34.1" y2="270.7" stroke="#000" stroke-width="0.7" />
<text x="27.4" y="274.7" font-size="11.9" text-anchor="end" textLength="10.4" lengthAdjust="spacingAndGlyphs">10</text>
<text x="27.5" y="270.9" font-size="8.3">7</text>
<text x="27.4" y="350.6" font-size="11.9" text-anchor="end" textLength="10.4" lengthAdjust="spacingAndGlyphs">10</text>
<text x="27.5" y="346.8" font-size="8.3">6</text>
<text x="54.4" y="412.7" font-size="11.9" text-anchor="end" textLength="10.8" lengthAdjust="spacingAndGlyphs">10</text>
<text x="54.5" y="409.1" font-size="8.3">1</text>
<text x="142.97" y="412.7" font-size="11.9" text-anchor="end" textLength="10.8" lengthAdjust="spacingAndGlyphs">10</text>
<text x="143.07" y="409.1" font-size="8.3">2</text>
<text x="231.54" y="412.7" font-size="11.9" text-anchor="end" textLength="10.8" lengthAdjust="spacingAndGlyphs">10</text>
<text x="231.64" y="409.1" font-size="8.3">3</text>
<text x="320.11" y="412.7" font-size="11.9" text-anchor="end" textLength="10.8" lengthAdjust="spacingAndGlyphs">10</text>
<text x="320.21" y="409.1" font-size="8.3">4</text>
<text x="125.01" y="242.1" font-size="11.9" text-anchor="middle" >0.1</text>
<text x="213.58" y="242.1" font-size="11.9" text-anchor="middle" >1.0</text>
<text x="302.15" y="242.1" font-size="11.9" text-anchor="middle" >10.0</text>
<text x="148.6" y="231.6" font-size="11.4" textLength="35.8" lengthAdjust="spacingAndGlyphs">Height [</text>
<text x="184.5" y="231.6" font-size="11.4" font-style="italic">r</text>
<text x="189.9" y="231.6" font-size="11.4">/</text>
<text x="195.1" y="231.6" font-size="11.4" font-style="italic">R</text>
<circle cx="207" cy="230.6" r="1.65" fill="none" stroke="#3a3a3a" stroke-width="0.65"/>
<circle cx="207" cy="230.6" r="0.45" fill="#3a3a3a"/>
<line x1="214.1" y1="228.9" x2="221.4" y2="228.9" stroke="#3a3a3a" stroke-width="0.7"/>
<text x="225.6" y="231.6" font-size="11.4">1]</text>
<text x="161.6" y="425.6" font-size="11.4" text-anchor="start" textLength="57.8" lengthAdjust="spacingAndGlyphs" >Height [Mm]</text>
<text transform="translate(11.0,405.6) rotate(-90)" font-size="11.6" textLength="162.8" lengthAdjust="spacingAndGlyphs">Linear number density [ cm<tspan font-size="7.5" dy="-4">&#x2212;3</tspan><tspan dy="4"> &#xD7; A]</tspan></text>
<g clip-path="url(#c3)">
<path d="M37.1,623.4l1.7,-.4l1.9,-.3l6.1,-.1l2.2,-.2l.2,-5.4l.7,-39.9l.8,-69.1l.4,-13.0l.3,-4.9l.3,-3.1l.6,-3.8l1.0,-3.7l.4,-1.1l.5,-.9l.6,-1.0l.7,-.8l.8,-.6l1.1,-.6l2.6,-1.0l2.0,-.5l4.0,-.4" fill="none" stroke="#000004" stroke-width="1.35" stroke-linejoin="round" stroke-dasharray="6.15 1.54 0.96 1.54" stroke-dashoffset="0.00"/>
<path d="M66.0,472.6l2.5,-.2l2.5,.0l9.0,.1l2.2,.1l3.6,.4l4.4,.7l2.0,.5l2.3,.6l2.7,1.0l3.6,1.4l2.0,1.0l2.4,1.3l7.3,4.5l15.0,10.0l2.5,1.5l3.0,1.6l4.2,2.2l4.8,2.2l15.0,6.3l8.0,2.9l8.0,2.6l8.5,2.4l9.5,2.5l7.8,1.7l9.4,1.9l10.6,1.7l6.2,.8l8.2,.7l6.8,.5l1.0,-.1l.5,-.1l.5,-.3l.2,-.4l.6,-1.1l.2,-1.0l.5,-3.3l.5,-5.5l1.0,-13.9l.5,-4.6l.3,-1.5l.4,-1.8l.6,-.9l.4,-.4" fill="none" stroke="#000004" stroke-width="1.35" stroke-linejoin="round" stroke-dasharray="6.15 1.54 0.96 1.54" stroke-dashoffset="1.40"/>
<path d="M247.5,490.5l1.0,-.2l2.0,.0l98.7,.0" fill="none" stroke="#000004" stroke-width="1.35" stroke-linejoin="round" stroke-dasharray="6.15 1.54 0.96 1.54" stroke-dashoffset="8.64"/>
<path d="M37.1,623.3l1.7,-.4l1.9,-.2l6.2,-.1l2.1,-.2l.2,-4.1l.8,-35.9l.5,-40.9l.3,-17.4l.8,-28.2l.2,-4.5l.4,-5.0l.5,-3.0l.9,-3.4l1.0,-2.2l.6,-.9l.6,-.7l.8,-.6l.9,-.6l1.1,-.5l1.4,-.5l2.0,-.5l4.0,-.4" fill="none" stroke="#10092d" stroke-width="1.05" stroke-linejoin="round" stroke-dasharray="6.15 1.54 0.96 1.54" stroke-dashoffset="0.00"/>
<path d="M66.0,473.1l3.2,-.2l6.0,.0l5.6,.1l3.2,.2l4.2,.5l3.8,.6l3.0,.7l3.8,1.2l3.7,1.4l4.3,2.0l6.2,3.2l15.5,8.7l4.0,2.0l5.0,2.2l5.0,2.1l14.5,5.6l8.5,2.8l9.5,2.7l8.0,2.0l11.0,2.6l16.5,3.7l11.5,2.3l8.0,1.3l8.2,1.2l5.8,.7l10.8,1.1l2.0,.1l1.0,-.2l.4,-.3l.3,-.3l.5,-1.2l.5,-2.4l.3,-1.9l1.4,-18.7l.6,-4.2l.2,-1.4l.5,-1.6l.5,-.8l.5,-.3" fill="none" stroke="#10092d" stroke-width="1.05" stroke-linejoin="round" stroke-dasharray="6.15 1.54 0.96 1.54" stroke-dashoffset="3.72"/>
<path d="M263.8,490.5l1.0,-.2l2.0,.0l82.4,.0" fill="none" stroke="#10092d" stroke-width="1.05" stroke-linejoin="round" stroke-dasharray="6.15 1.54 0.96 1.54" stroke-dashoffset="4.51"/>
<path d="M37.1,623.3l1.7,-.4l1.9,-.2l6.2,-.1l2.1,-.2l.2,-3.4l.8,-30.2l.6,-44.0l.9,-41.1l.3,-9.6l.4,-6.3l.5,-3.5l.9,-3.7l1.0,-2.3l.5,-.8l.7,-.9l.8,-.7l.9,-.6l1.1,-.5l1.3,-.5l2.1,-.5l4.0,-.4" fill="none" stroke="#310a5c" stroke-width="1.05" stroke-linejoin="round" stroke-dasharray="6.15 1.54 0.96 1.54" stroke-dashoffset="0.00"/>
<path d="M66.0,473.4l2.8,-.2l3.0,.0l8.2,.0l2.5,.1l3.5,.3l4.5,.6l2.3,.4l2.4,.5l5.8,1.7l4.5,1.8l7.5,3.5l15.5,7.8l7.3,3.2l5.4,2.2l14.8,5.5l4.2,1.4l4.8,1.4l7.2,2.0l7.3,1.8l21.3,4.8l17.0,4.1l6.2,1.3l10.2,2.0l8.3,1.3l13.0,1.8l8.7,.9l3.0,.2l.8,-.1l.5,-.1l.5,-.4l.2,-.3l.6,-1.3l.4,-2.6l.3,-2.0l1.3,-15.8l.7,-6.9l.3,-1.2l.4,-1.5l.6,-.7l.4,-.4" fill="none" stroke="#310a5c" stroke-width="1.05" stroke-linejoin="round" stroke-dasharray="6.15 1.54 0.96 1.54" stroke-dashoffset="4.80"/>
<path d="M274.5,490.5l1.0,-.2l2.0,.0l71.7,.0" fill="none" stroke="#310a5c" stroke-width="1.05" stroke-linejoin="round" stroke-dasharray="6.15 1.54 0.96 1.54" stroke-dashoffset="5.07"/>
<path d="M37.1,623.3l1.7,-.4l1.9,-.2l6.2,-.1l2.1,-.2l.2,-2.9l.8,-25.5l.6,-40.6l1.0,-50.1l.3,-9.4l.4,-6.0l.6,-3.8l.8,-3.2l1.0,-2.4l.5,-.8l.7,-.9l.8,-.7l.8,-.5l1.1,-.6l1.3,-.4l2.3,-.6l3.8,-.4" fill="none" stroke="#540f6d" stroke-width="1.05" stroke-linejoin="round" stroke-dasharray="6.15 1.54 0.96 1.54" stroke-dashoffset="0.00"/>
<path d="M66.0,473.6l2.8,-.2l3.4,.0l7.8,.0l2.8,.1l3.4,.3l4.6,.5l2.4,.4l3.0,.7l5.0,1.3l4.8,1.8l7.2,3.1l15.6,7.2l7.2,2.9l5.5,2.1l8.7,3.0l5.8,2.2l8.5,2.5l12.7,3.2l24.0,5.4l21.3,5.4l12.0,2.6l8.7,1.6l13.3,2.2l6.7,.8l8.6,.8l2.7,.2l.7,-.1l.6,-.1l.4,-.4l.3,-.4l.5,-1.4l.5,-2.7l.3,-2.2l1.2,-15.9l.5,-4.8l.3,-1.7l.4,-2.0l.6,-.9l.2,-.3l.5,-.3" fill="none" stroke="#540f6d" stroke-width="1.05" stroke-linejoin="round" stroke-dasharray="6.15 1.54 0.96 1.54" stroke-dashoffset="5.61"/>
<path d="M281.5,490.5l1.0,-.2l1.7,.0l65.0,.0" fill="none" stroke="#540f6d" stroke-width="1.05" stroke-linejoin="round" stroke-dasharray="6.15 1.54 0.96 1.54" stroke-dashoffset="1.88"/>
<path d="M37.1,623.2l1.7,-.3l1.9,-.2l6.2,-.1l2.1,-.1l.2,-2.5l.8,-21.4l1.6,-92.4l.4,-13.1l.4,-5.2l.6,-3.7l.8,-3.2l1.0,-2.4l.5,-.8l.7,-.8l.8,-.7l.8,-.5l1.1,-.6l1.3,-.5l2.5,-.6l3.5,-.3" fill="none" stroke="#751b6e" stroke-width="1.05" stroke-linejoin="round" stroke-dasharray="6.15 1.54 0.96 1.54" stroke-dashoffset="0.00"/>
<path d="M66.0,473.8l3.0,-.2l4.8,.0l6.4,.0l3.3,.1l8.0,.8l3.0,.5l3.3,.7l3.0,.7l2.2,.7l7.5,2.8l4.7,2.0l13.3,5.6l7.3,2.8l14.2,4.9l6.2,2.3l7.3,2.1l12.7,3.1l24.0,5.2l23.3,6.2l9.7,2.4l7.3,1.6l12.5,2.4l7.5,1.2l7.0,.8l10.3,.9l2.2,.2l1.0,-.2l.5,-.4l.3,-.3l.4,-1.3l.6,-2.6l.2,-2.0l1.2,-15.7l.8,-6.8l.2,-1.2l.6,-1.5l.4,-.7l.6,-.4" fill="none" stroke="#751b6e" stroke-width="1.05" stroke-linejoin="round" stroke-dasharray="6.15 1.54 0.96 1.54" stroke-dashoffset="6.28"/>
<path d="M287.0,490.5l1.0,-.2l1.8,.0l59.4,.0" fill="none" stroke="#751b6e" stroke-width="1.05" stroke-linejoin="round" stroke-dasharray="6.15 1.54 0.96 1.54" stroke-dashoffset="7.38"/>
<path d="M37.1,623.2l1.7,-.3l1.9,-.2l6.2,-.1l2.1,-.1l.2,-2.1l.5,-10.4l.4,-10.7l1.6,-95.6l.3,-9.4l.4,-5.6l.6,-4.0l.8,-3.3l1.0,-2.5l.5,-.8l.7,-.9l.8,-.7l.8,-.5l1.1,-.6l1.2,-.5l2.6,-.6l3.5,-.4" fill="none" stroke="#972766" stroke-width="1.05" stroke-linejoin="round" stroke-dasharray="6.15 1.54 0.96 1.54" stroke-dashoffset="0.00"/>
<path d="M66.0,473.9l3.2,-.1l6.0,-.1l5.6,.1l3.4,.1l8.0,.8l3.6,.5l4.2,1.0l4.2,1.2l7.3,2.5l17.3,6.7l6.2,2.3l15.0,4.9l6.2,2.2l6.0,1.7l13.0,3.1l16.0,3.3l9.0,2.0l4.8,1.3l19.2,5.5l11.8,3.0l8.0,1.9l11.5,2.4l7.0,1.2l9.3,1.0l10.4,1.0l2.3,.1l1.0,-.2l.5,-.3l.2,-.2l.6,-1.1l.4,-2.3l.6,-4.1l1.2,-16.0l.5,-4.4l.3,-1.4l.4,-1.7l.6,-.8l.4,-.4" fill="none" stroke="#972766" stroke-width="1.05" stroke-linejoin="round" stroke-dasharray="6.15 1.54 0.96 1.54" stroke-dashoffset="6.84"/>
<path d="M291.5,490.5l1.0,-.2l1.7,.0l55.0,.0" fill="none" stroke="#972766" stroke-width="1.05" stroke-linejoin="round" stroke-dasharray="6.15 1.54 0.96 1.54" stroke-dashoffset="1.69"/>
<path d="M37.1,623.2l1.7,-.4l1.9,-.1l6.2,-.1l2.1,-.1l.1,-.5l.7,-11.4l.3,-6.9l1.0,-56.6l.6,-41.4l.4,-12.5l.4,-4.7l.7,-4.3l.7,-2.7l1.0,-2.5l.5,-.8l.7,-.8l.7,-.7l.8,-.6l1.1,-.5l1.2,-.5l2.6,-.6l3.5,-.4" fill="none" stroke="#b73557" stroke-width="1.05" stroke-linejoin="round" stroke-dasharray="6.15 1.54 0.96 1.54" stroke-dashoffset="0.00"/>
<path d="M66.0,474.1l3.5,-.2l6.3,.0l5.2,.0l3.5,.1l8.0,.7l3.5,.6l4.5,.9l4.0,1.0l7.7,2.5l16.8,6.1l6.2,2.1l14.6,4.5l6.4,2.3l5.3,1.5l13.3,3.0l16.2,3.2l9.2,2.1l5.3,1.4l18.0,5.5l10.7,3.0l8.3,2.1l12.0,2.8l6.5,1.2l5.5,.9l9.7,1.1l10.0,.8l2.6,.1l1.0,-.1l.4,-.4l.3,-.3l.5,-1.1l.5,-2.4l.3,-1.9l1.4,-18.4l.6,-4.2l.2,-1.3l.5,-1.6l.5,-.8l.5,-.3" fill="none" stroke="#b73557" stroke-width="1.05" stroke-linejoin="round" stroke-dasharray="6.15 1.54 0.96 1.54" stroke-dashoffset="7.33"/>
<path d="M295.8,490.5l1.0,-.2l1.7,.0l50.7,.0" fill="none" stroke="#b73557" stroke-width="1.05" stroke-linejoin="round" stroke-dasharray="6.15 1.54 0.96 1.54" stroke-dashoffset="5.94"/>
<path d="M37.1,623.1l1.7,-.3l1.9,-.1l8.3,-.2l.1,-.4l.8,-10.4l.3,-7.6l.9,-51.9l.6,-44.7l.4,-13.5l.4,-4.9l.7,-4.5l.7,-2.8l1.0,-2.5l.6,-1.0l.7,-.9l.7,-.6l.9,-.6l1.0,-.5l1.2,-.5l2.5,-.6l3.5,-.3" fill="none" stroke="#d44842" stroke-width="1.05" stroke-linejoin="round" stroke-dasharray="6.15 1.54 0.96 1.54" stroke-dashoffset="0.00"/>
<path d="M66.0,474.3l3.5,-.2l6.7,-.1l5.0,.0l3.8,.2l5.2,.4l2.8,.2l3.8,.6l4.4,.8l4.0,1.1l8.0,2.3l17.3,5.8l19.0,5.8l7.7,2.6l4.8,1.2l5.8,1.3l9.0,1.8l14.4,2.8l9.3,2.1l5.0,1.4l17.7,5.6l10.6,3.2l7.7,2.2l8.5,2.1l8.5,2.0l6.5,1.2l12.0,1.4l12.8,1.2l2.7,.1l1.0,-.2l.5,-.3l.2,-.2l.6,-1.1l.4,-2.2l.6,-4.2l1.2,-15.9l.5,-4.4l.3,-1.4l.4,-1.7l.6,-.8l.4,-.4" fill="none" stroke="#d44842" stroke-width="1.05" stroke-linejoin="round" stroke-dasharray="6.15 1.54 0.96 1.54" stroke-dashoffset="7.75"/>
<path d="M299.5,490.5l1.0,-.2l1.7,.0l47.0,.0" fill="none" stroke="#d44842" stroke-width="1.05" stroke-linejoin="round" stroke-dasharray="6.15 1.54 0.96 1.54" stroke-dashoffset="9.69"/>
<path d="M37.1,623.1l1.7,-.3l1.9,-.1l8.1,-.2l.2,.0l.1,-.3l.8,-7.7l.3,-5.9l.9,-51.6l.6,-47.8l.4,-14.4l.4,-5.2l.6,-4.0l.8,-3.5l1.0,-2.6l.6,-1.0l.7,-.9l.7,-.6l.9,-.6l1.0,-.6l1.2,-.4l2.5,-.7l3.5,-.3" fill="none" stroke="#eb6429" stroke-width="1.05" stroke-linejoin="round" stroke-dasharray="6.15 1.54 0.96 1.54" stroke-dashoffset="0.00"/>
<path d="M66.0,474.4l3.5,-.2l7.0,.0l4.7,.0l4.0,.1l5.3,.3l3.0,.3l4.5,.7l4.0,.7l4.2,1.0l9.6,2.7l16.2,4.9l17.0,5.0l6.5,2.2l3.0,.8l4.7,1.1l6.0,1.3l23.6,4.5l4.7,1.0l3.7,1.0l4.8,1.4l17.8,5.8l13.0,4.1l6.7,2.0l12.5,3.2l3.8,.9l3.4,.7l8.6,1.2l10.7,1.2l11.7,1.0l2.0,.1l1.0,-.2l.6,-.3l.2,-.3l.5,-1.2l.5,-2.4l.2,-1.9l1.6,-18.3l.4,-4.2l.3,-1.3l.5,-1.6l.5,-.8l.5,-.3" fill="none" stroke="#eb6429" stroke-width="1.05" stroke-linejoin="round" stroke-dasharray="6.15 1.54 0.96 1.54" stroke-dashoffset="8.13"/>
<path d="M303.2,490.5l.8,-.1l1.8,-.1l43.4,.0" fill="none" stroke="#eb6429" stroke-width="1.05" stroke-linejoin="round" stroke-dasharray="6.15 1.54 0.96 1.54" stroke-dashoffset="3.25"/>
<path d="M37.1,623.1l1.7,-.3l1.9,-.1l8.3,-.2l.2,-.6l.8,-5.4l.2,-3.6l.9,-51.4l.6,-50.7l.4,-15.2l.4,-5.4l.6,-4.2l.8,-3.6l1.0,-2.7l.6,-1.0l.7,-.9l.7,-.7l.8,-.5l1.1,-.6l1.1,-.5l2.6,-.6l3.5,-.4" fill="none" stroke="#f8870e" stroke-width="1.05" stroke-linejoin="round" stroke-dasharray="6.15 1.54 0.96 1.54" stroke-dashoffset="0.00"/>
<path d="M66.0,474.5l3.5,-.1l7.7,-.1l4.6,.0l4.2,.1l5.0,.3l3.2,.4l5.8,.7l3.0,.6l9.2,2.2l8.6,2.3l27.4,7.7l7.6,2.4l3.2,.9l4.2,1.0l5.6,1.1l22.4,4.1l5.3,1.1l4.3,1.1l5.7,1.7l17.7,6.1l14.3,4.7l12.7,3.7l7.3,1.9l6.3,1.3l10.7,1.5l10.0,1.1l12.3,1.0l2.2,.1l1.0,-.2l.5,-.4l.3,-.3l.4,-1.3l.6,-2.5l.2,-2.0l1.2,-15.7l.8,-6.7l.2,-1.3l.6,-1.5l.4,-.6l.6,-.4" fill="none" stroke="#f8870e" stroke-width="1.05" stroke-linejoin="round" stroke-dasharray="6.15 1.54 0.96 1.54" stroke-dashoffset="8.46"/>
<path d="M307.0,490.5l.8,-.2l1.7,.0l39.7,.0" fill="none" stroke="#f8870e" stroke-width="1.05" stroke-linejoin="round" stroke-dasharray="6.15 1.54 0.96 1.54" stroke-dashoffset="7.00"/>
<path d="M37.1,623.1l1.7,-.3l1.9,-.1l8.3,-.2l.2,-.3l.5,-1.6l.4,-1.6l.2,-6.3l.7,-40.0l.8,-65.9l.3,-10.4l.4,-5.7l.6,-4.3l.8,-3.7l1.0,-2.7l.6,-1.1l.7,-.9l.7,-.7l.8,-.6l1.1,-.6l1.1,-.4l2.6,-.7l3.5,-.4" fill="none" stroke="#fcae12" stroke-width="1.05" stroke-linejoin="round" stroke-dasharray="6.15 1.54 0.96 1.54" stroke-dashoffset="0.00"/>
<path d="M66.0,474.6l3.8,-.1l9.0,-.1l4.0,.0l4.7,.2l4.3,.3l4.0,.3l5.0,.7l3.4,.6l9.8,2.2l8.8,2.1l24.7,6.6l3.3,.9l5.2,1.8l3.2,.8l8.8,1.8l22.5,4.0l5.5,1.1l4.2,1.0l3.0,.9l3.8,1.2l17.5,6.2l15.3,5.3l13.4,4.1l7.0,1.8l3.6,.8l3.7,.6l10.7,1.6l9.8,1.0l13.0,1.0l2.8,.1l1.0,-.2l.4,-.4l.3,-.4l.5,-1.3l.5,-2.8l.3,-2.1l1.2,-15.8l.5,-4.8l.3,-1.6l.4,-2.0l.6,-.9l.2,-.3l.5,-.3" fill="none" stroke="#fcae12" stroke-width="1.05" stroke-linejoin="round" stroke-dasharray="6.15 1.54 0.96 1.54" stroke-dashoffset="8.76"/>
<path d="M310.5,490.5l.7,-.1l1.8,-.1l36.2,.0" fill="none" stroke="#fcae12" stroke-width="1.05" stroke-linejoin="round" stroke-dasharray="6.15 1.54 0.96 1.54" stroke-dashoffset="0.31"/>
<path d="M37.1,623.0l3.5,-.3l6.7,-.1l2.8,-.2l.2,-5.4l.7,-39.9l.8,-69.1l.3,-10.9l.2,-3.6l.3,-3.3l.7,-4.6l.7,-2.9l1.0,-2.7l.6,-1.0l.7,-1.0l.7,-.6l.9,-.7l1.0,-.5l1.1,-.4l2.8,-.7l3.2,-.3" fill="none" stroke="#f6d746" stroke-width="1.05" stroke-linejoin="round" stroke-dasharray="6.15 1.54 0.96 1.54" stroke-dashoffset="0.00"/>
<path d="M66.0,474.8l4.0,-.2l10.8,-.1l5.0,.1l6.4,.3l4.8,.5l4.8,.5l11.2,2.2l10.5,2.3l21.0,5.2l5.7,1.6l6.0,1.9l3.3,.8l7.7,1.5l23.0,4.0l5.6,1.1l4.4,1.1l3.3,.9l4.0,1.4l25.0,9.1l8.0,2.8l13.5,4.3l7.2,2.0l3.3,.7l4.7,.8l10.6,1.5l9.4,1.0l13.6,1.1l3.7,.2l1.3,-.1l.4,-.1l.6,-.4l.4,-1.0l.6,-1.9l.4,-3.7l1.3,-15.8l.5,-4.8l.2,-1.6l.6,-2.0l.4,-.9l.3,-.3l.5,-.3" fill="none" stroke="#f6d746" stroke-width="1.05" stroke-linejoin="round" stroke-dasharray="6.15 1.54 0.96 1.54" stroke-dashoffset="9.02"/>
<path d="M314.0,490.5l.8,-.1l1.7,-.1l32.7,.0" fill="none" stroke="#f6d746" stroke-width="1.05" stroke-linejoin="round" stroke-dasharray="6.15 1.54 0.96 1.54" stroke-dashoffset="3.81"/>
<path d="M37.1,622.4l33.5,.0l8.0,-.2l4.2,-.4l4.3,-.5l3.7,-.7l4.0,-1.1l2.0,-.7l12.6,-5.5l5.2,-2.6l5.5,-2.9l3.5,-2.0l3.0,-1.9l16.2,-11.2l5.0,-3.3l4.6,-2.7l4.7,-2.5l3.5,-1.8l3.5,-1.5l4.0,-1.5l6.0,-1.9l4.3,-1.1l5.0,-1.1l5.4,-.9l5.0,-.7l6.3,-.6l7.5,-.5l31.0,-1.5l2.2,.0l.6,.1l.4,.3l.6,.6l.2,.5l.5,1.8l.3,1.5l.4,4.5l1.3,15.6l.5,3.9l.2,1.2l.6,1.5l.4,.7l.8,.3l1.0,.2l2.0,.0l98.5,.0" fill="none" stroke="#000004" stroke-width="1.45" stroke-linejoin="round" />
<path d="M37.1,622.4l33.5,.0l7.8,-.2l4.2,-.3l4.2,-.4l3.6,-.6l3.7,-.8l2.7,-.9l10.8,-4.2l5.2,-2.2l5.6,-2.6l4.2,-2.2l3.8,-2.1l17.0,-10.6l6.0,-3.5l4.7,-2.5l5.3,-2.5l3.7,-1.5l4.0,-1.5l7.7,-2.5l4.6,-1.3l7.7,-1.7l7.0,-1.3l8.5,-1.2l9.8,-1.2l10.7,-1.0l14.5,-1.1l18.5,-.8l1.5,.1l.5,.3l.3,.2l.4,.9l.3,.8l.5,2.6l.5,4.7l1.0,12.7l.3,2.6l.4,3.6l.3,1.1l.5,1.4l.5,.6l.7,.4l1.0,.1l2.0,.0l82.3,.0" fill="none" stroke="#10092d" stroke-width="1.05" stroke-linejoin="round" />
<path d="M37.1,622.4l33.5,.0l7.5,-.2l4.0,-.2l4.5,-.4l3.5,-.5l3.5,-.7l3.2,-.9l10.6,-3.8l5.7,-2.3l6.3,-2.8l4.0,-2.0l3.2,-1.7l12.8,-7.5l7.2,-4.1l5.2,-2.7l5.8,-2.7l3.5,-1.4l4.0,-1.5l11.5,-3.6l7.5,-1.9l8.3,-1.7l10.0,-1.7l10.4,-1.6l9.8,-1.2l12.5,-1.4l26.7,-1.9l4.8,-.2l1.5,.1l.5,.1l.5,.5l.5,.9l.5,2.1l.5,3.7l1.2,15.4l.6,4.4l.2,1.5l.5,1.8l.5,.8l.8,.5l1.0,.2l2.0,.0l71.7,.0" fill="none" stroke="#310a5c" stroke-width="1.05" stroke-linejoin="round" />
<path d="M37.1,622.4l33.5,.0l7.5,-.1l4.5,-.3l4.2,-.4l3.8,-.5l3.8,-.7l3.0,-.8l10.4,-3.6l5.3,-2.0l6.3,-2.6l7.2,-3.5l12.8,-7.1l7.0,-3.7l5.4,-2.7l5.8,-2.5l3.5,-1.4l3.7,-1.3l12.6,-3.7l8.2,-2.0l8.8,-1.9l13.4,-2.4l13.8,-2.1l13.5,-1.8l25.3,-2.5l12.0,-.9l2.2,-.1l1.0,.1l.5,.3l.3,.3l.4,1.1l.6,2.1l.4,4.0l1.3,15.4l.5,4.2l.2,1.4l.6,1.7l.4,.8l.6,.3l1.0,.2l1.7,.1l65.0,.0" fill="none" stroke="#540f6d" stroke-width="1.05" stroke-linejoin="round" />
<path d="M37.1,622.4l33.7,.0l7.6,-.1l4.7,-.3l4.3,-.4l3.7,-.5l4.0,-.7l7.0,-2.0l6.3,-2.1l5.0,-1.8l6.0,-2.4l7.4,-3.5l12.6,-6.5l7.0,-3.5l5.7,-2.6l5.5,-2.3l3.2,-1.2l3.8,-1.3l12.8,-3.6l10.0,-2.4l12.2,-2.5l13.0,-2.5l12.5,-2.1l9.7,-1.5l9.8,-1.1l16.0,-2.1l8.5,-.9l8.7,-.7l2.3,.0l1.0,.2l.5,.4l.2,.4l.6,1.4l.4,2.9l.3,2.1l1.3,15.4l.4,4.4l.3,1.5l.5,1.8l.5,.8l.5,.4l1.0,.2l1.8,.1l59.7,.0" fill="none" stroke="#751b6e" stroke-width="1.05" stroke-linejoin="round" />
<path d="M37.1,622.4l33.7,.0l7.6,-.1l5.0,-.3l4.0,-.3l4.0,-.5l4.0,-.7l6.7,-1.8l6.0,-1.9l5.0,-1.7l6.0,-2.3l7.5,-3.2l12.8,-6.3l7.0,-3.3l5.7,-2.5l5.5,-2.2l3.2,-1.1l3.6,-1.1l12.0,-3.3l10.2,-2.4l19.0,-4.0l12.8,-2.6l8.2,-1.5l8.2,-1.3l9.8,-1.4l9.5,-1.6l8.7,-1.3l10.8,-1.2l9.0,-.7l2.0,-.1l1.0,.2l.5,.4l.3,.3l.4,1.2l.6,2.5l.2,1.9l1.2,15.2l.8,6.5l.2,1.2l.6,1.5l.4,.7l.6,.3l1.0,.2l1.7,.0l55.0,.0" fill="none" stroke="#972766" stroke-width="1.05" stroke-linejoin="round" />
<path d="M37.1,622.4l33.7,.0l7.6,-.1l5.2,-.3l4.0,-.3l4.0,-.5l4.0,-.6l5.8,-1.4l4.2,-1.2l5.0,-1.5l4.2,-1.5l5.3,-2.0l5.3,-2.1l19.2,-8.8l4.2,-1.8l5.6,-2.2l4.2,-1.6l3.8,-1.2l12.2,-3.2l8.8,-2.1l25.4,-5.6l11.8,-2.5l7.0,-1.3l7.2,-1.3l9.3,-1.4l10.3,-2.1l9.7,-1.7l11.5,-1.5l11.2,-.9l2.0,-.1l1.0,.3l.6,.3l.2,.4l.5,1.3l.5,2.7l.2,2.0l1.3,15.4l.5,4.6l.2,1.6l.6,1.9l.4,1.0l.6,.4l1.0,.2l1.7,.1l51.0,.0" fill="none" stroke="#b73557" stroke-width="1.05" stroke-linejoin="round" />
<path d="M37.1,622.4l34.0,.0l7.3,-.1l5.4,-.3l4.0,-.3l4.3,-.4l4.0,-.7l6.0,-1.4l5.0,-1.3l5.0,-1.5l5.3,-1.8l8.7,-3.3l15.0,-6.5l8.0,-3.3l9.5,-3.5l3.2,-1.0l4.0,-1.0l12.8,-3.1l18.5,-4.0l25.3,-5.8l7.4,-1.5l14.0,-2.6l10.3,-2.4l7.5,-1.6l7.0,-1.1l7.2,-1.0l6.8,-.7l7.5,-.6l2.5,.0l1.0,.2l.5,.3l.3,.4l.4,1.2l.6,2.5l.2,1.9l1.2,15.3l.6,4.9l.2,1.6l.5,2.1l.5,1.0l.5,.4l1.0,.3l1.7,.1l47.3,.0" fill="none" stroke="#d44842" stroke-width="1.05" stroke-linejoin="round" />
<path d="M37.1,622.4l34.3,.0l7.2,-.1l6.0,-.3l4.5,-.3l4.3,-.5l4.0,-.7l5.2,-1.1l5.2,-1.3l4.6,-1.3l5.4,-1.8l8.6,-3.1l13.4,-5.6l8.6,-3.3l9.2,-3.2l6.5,-1.9l13.0,-3.0l20.3,-4.2l27.7,-6.7l18.5,-3.7l10.8,-2.9l9.0,-2.1l7.2,-1.3l6.5,-1.0l7.7,-.8l7.0,-.5l3.6,-.2l1.4,.1l.6,.1l.4,.4l.6,.9l.4,1.9l.6,3.7l1.2,15.4l.5,4.6l.3,1.6l.4,1.9l.6,1.0l.4,.4l.8,.2l1.8,.1l43.7,.0" fill="none" stroke="#eb6429" stroke-width="1.05" stroke-linejoin="round" />
<path d="M37.1,622.4l36.0,.0l7.0,-.1l6.0,-.3l5.3,-.5l4.4,-.6l5.3,-.9l4.3,-1.0l5.2,-1.3l8.2,-2.5l8.0,-2.8l12.8,-5.0l7.8,-2.8l9.2,-3.2l5.8,-1.6l11.4,-2.6l18.3,-3.6l6.0,-1.3l26.5,-6.8l18.8,-4.0l3.0,-.9l8.2,-2.5l6.0,-1.6l3.8,-.9l7.2,-1.4l6.2,-1.0l8.3,-.9l7.0,-.6l5.5,-.3l1.8,.1l.4,.1l.6,.3l.4,.6l.3,.6l.5,2.1l.5,3.8l1.3,15.5l.4,4.5l.3,1.5l.5,1.8l.5,.8l.5,.4l.8,.2l1.7,.1l40.0,.0" fill="none" stroke="#f8870e" stroke-width="1.05" stroke-linejoin="round" />
<path d="M37.1,622.4l38.0,.0l6.0,-.1l5.7,-.3l5.3,-.5l4.7,-.6l5.8,-1.0l8.5,-1.9l8.3,-2.4l7.7,-2.6l12.5,-4.6l6.8,-2.4l9.2,-3.0l5.0,-1.4l4.2,-1.0l6.3,-1.3l20.3,-3.8l7.4,-1.7l26.0,-6.9l13.8,-3.1l4.2,-1.0l3.0,-.9l7.6,-2.6l4.7,-1.4l4.5,-1.3l4.0,-1.0l6.5,-1.3l5.5,-1.0l8.2,-.9l7.0,-.6l7.8,-.4l2.2,.0l1.0,.3l.6,.4l.2,.5l.5,1.5l.5,3.1l.5,5.1l1.0,12.7l.5,4.3l.2,1.4l.6,1.7l.2,.4l.5,.6l.7,.3l1.8,.1l36.5,.0" fill="none" stroke="#fcae12" stroke-width="1.05" stroke-linejoin="round" />
<path d="M37.1,622.4l38.5,.0l7.8,-.2l5.4,-.3l4.6,-.4l6.4,-.9l4.3,-.7l7.5,-1.7l8.2,-2.3l8.0,-2.5l16.6,-5.6l13.7,-4.2l3.7,-.9l4.8,-1.0l24.2,-4.5l4.6,-.9l4.0,-.9l12.0,-3.3l13.4,-3.8l12.8,-3.0l4.8,-1.2l3.7,-1.2l8.7,-3.3l6.0,-1.9l4.0,-1.2l7.3,-1.7l6.3,-1.2l9.0,-1.1l7.2,-.7l7.8,-.4l4.4,-.1l1.3,.2l.5,.3l.2,.3l.6,1.1l.2,.9l.5,3.1l.5,5.1l1.0,12.7l.5,4.3l.3,1.4l.4,1.7l.3,.4l.5,.6l.8,.3l1.7,.1l33.0,.0" fill="none" stroke="#f6d746" stroke-width="1.05" stroke-linejoin="round" />
</g>
<rect x="37.5" y="471.5" width="311.7" height="151" stroke="#000" stroke-width="0.75" fill="none" />
<line x1="41.97" y1="622.4" x2="41.97" y2="623.8" stroke="#000" stroke-width="0.55" />
<line x1="46.58" y1="622.4" x2="46.58" y2="623.8" stroke="#000" stroke-width="0.55" />
<line x1="50.7" y1="622.4" x2="50.7" y2="624.8" stroke="#000" stroke-width="0.7" />
<line x1="77.82" y1="622.4" x2="77.82" y2="623.8" stroke="#000" stroke-width="0.55" />
<line x1="93.69" y1="622.4" x2="93.69" y2="623.8" stroke="#000" stroke-width="0.55" />
<line x1="104.95" y1="622.4" x2="104.95" y2="623.8" stroke="#000" stroke-width="0.55" />
<line x1="113.68" y1="622.4" x2="113.68" y2="623.8" stroke="#000" stroke-width="0.55" />
<line x1="120.81" y1="622.4" x2="120.81" y2="623.8" stroke="#000" stroke-width="0.55" />
<line x1="126.84" y1="622.4" x2="126.84" y2="623.8" stroke="#000" stroke-width="0.55" />
<line x1="132.07" y1="622.4" x2="132.07" y2="623.8" stroke="#000" stroke-width="0.55" />
<line x1="136.68" y1="622.4" x2="136.68" y2="623.8" stroke="#000" stroke-width="0.55" />
<line x1="140.8" y1="622.4" x2="140.8" y2="624.8" stroke="#000" stroke-width="0.7" />
<line x1="167.92" y1="622.4" x2="167.92" y2="623.8" stroke="#000" stroke-width="0.55" />
<line x1="183.79" y1="622.4" x2="183.79" y2="623.8" stroke="#000" stroke-width="0.55" />
<line x1="195.05" y1="622.4" x2="195.05" y2="623.8" stroke="#000" stroke-width="0.55" />
<line x1="203.78" y1="622.4" x2="203.78" y2="623.8" stroke="#000" stroke-width="0.55" />
<line x1="210.91" y1="622.4" x2="210.91" y2="623.8" stroke="#000" stroke-width="0.55" />
<line x1="216.94" y1="622.4" x2="216.94" y2="623.8" stroke="#000" stroke-width="0.55" />
<line x1="222.17" y1="622.4" x2="222.17" y2="623.8" stroke="#000" stroke-width="0.55" />
<line x1="226.78" y1="622.4" x2="226.78" y2="623.8" stroke="#000" stroke-width="0.55" />
<line x1="230.9" y1="622.4" x2="230.9" y2="624.8" stroke="#000" stroke-width="0.7" />
<line x1="258.02" y1="622.4" x2="258.02" y2="623.8" stroke="#000" stroke-width="0.55" />
<line x1="273.89" y1="622.4" x2="273.89" y2="623.8" stroke="#000" stroke-width="0.55" />
<line x1="285.15" y1="622.4" x2="285.15" y2="623.8" stroke="#000" stroke-width="0.55" />
<line x1="293.88" y1="622.4" x2="293.88" y2="623.8" stroke="#000" stroke-width="0.55" />
<line x1="301.01" y1="622.4" x2="301.01" y2="623.8" stroke="#000" stroke-width="0.55" />
<line x1="307.04" y1="622.4" x2="307.04" y2="623.8" stroke="#000" stroke-width="0.55" />
<line x1="312.27" y1="622.4" x2="312.27" y2="623.8" stroke="#000" stroke-width="0.55" />
<line x1="316.88" y1="622.4" x2="316.88" y2="623.8" stroke="#000" stroke-width="0.55" />
<line x1="321" y1="622.4" x2="321" y2="624.8" stroke="#000" stroke-width="0.7" />
<line x1="348.12" y1="622.4" x2="348.12" y2="623.8" stroke="#000" stroke-width="0.55" />
<line x1="63.63" y1="471.4" x2="63.63" y2="470" stroke="#000" stroke-width="0.55" />
<line x1="79.49" y1="471.4" x2="79.49" y2="470" stroke="#000" stroke-width="0.55" />
<line x1="90.75" y1="471.4" x2="90.75" y2="470" stroke="#000" stroke-width="0.55" />
<line x1="99.48" y1="471.4" x2="99.48" y2="470" stroke="#000" stroke-width="0.55" />
<line x1="106.61" y1="471.4" x2="106.61" y2="470" stroke="#000" stroke-width="0.55" />
<line x1="112.65" y1="471.4" x2="112.65" y2="470" stroke="#000" stroke-width="0.55" />
<line x1="117.87" y1="471.4" x2="117.87" y2="470" stroke="#000" stroke-width="0.55" />
<line x1="122.48" y1="471.4" x2="122.48" y2="470" stroke="#000" stroke-width="0.55" />
<line x1="126.6" y1="471.4" x2="126.6" y2="469" stroke="#000" stroke-width="0.7" />
<line x1="153.73" y1="471.4" x2="153.73" y2="470" stroke="#000" stroke-width="0.55" />
<line x1="169.59" y1="471.4" x2="169.59" y2="470" stroke="#000" stroke-width="0.55" />
<line x1="180.85" y1="471.4" x2="180.85" y2="470" stroke="#000" stroke-width="0.55" />
<line x1="189.58" y1="471.4" x2="189.58" y2="470" stroke="#000" stroke-width="0.55" />
<line x1="196.71" y1="471.4" x2="196.71" y2="470" stroke="#000" stroke-width="0.55" />
<line x1="202.75" y1="471.4" x2="202.75" y2="470" stroke="#000" stroke-width="0.55" />
<line x1="207.97" y1="471.4" x2="207.97" y2="470" stroke="#000" stroke-width="0.55" />
<line x1="212.58" y1="471.4" x2="212.58" y2="470" stroke="#000" stroke-width="0.55" />
<line x1="216.7" y1="471.4" x2="216.7" y2="469" stroke="#000" stroke-width="0.7" />
<line x1="243.83" y1="471.4" x2="243.83" y2="470" stroke="#000" stroke-width="0.55" />
<line x1="259.69" y1="471.4" x2="259.69" y2="470" stroke="#000" stroke-width="0.55" />
<line x1="270.95" y1="471.4" x2="270.95" y2="470" stroke="#000" stroke-width="0.55" />
<line x1="279.68" y1="471.4" x2="279.68" y2="470" stroke="#000" stroke-width="0.55" />
<line x1="286.81" y1="471.4" x2="286.81" y2="470" stroke="#000" stroke-width="0.55" />
<line x1="292.85" y1="471.4" x2="292.85" y2="470" stroke="#000" stroke-width="0.55" />
<line x1="298.07" y1="471.4" x2="298.07" y2="470" stroke="#000" stroke-width="0.55" />
<line x1="302.68" y1="471.4" x2="302.68" y2="470" stroke="#000" stroke-width="0.55" />
<line x1="306.8" y1="471.4" x2="306.8" y2="469" stroke="#000" stroke-width="0.7" />
<line x1="333.93" y1="471.4" x2="333.93" y2="470" stroke="#000" stroke-width="0.55" />
<line x1="37.5" y1="622.4" x2="35.1" y2="622.4" stroke="#000" stroke-width="0.7" />
<text x="33.6" y="626.2" font-size="11.9" text-anchor="end" >0.0</text>
<line x1="37.5" y1="592.2" x2="35.1" y2="592.2" stroke="#000" stroke-width="0.7" />
<text x="33.6" y="596" font-size="11.9" text-anchor="end" >0.2</text>
<line x1="37.5" y1="562" x2="35.1" y2="562" stroke="#000" stroke-width="0.7" />
<text x="33.6" y="565.8" font-size="11.9" text-anchor="end" >0.4</text>
<line x1="37.5" y1="531.8" x2="35.1" y2="531.8" stroke="#000" stroke-width="0.7" />
<text x="33.6" y="535.6" font-size="11.9" text-anchor="end" >0.6</text>
<line x1="37.5" y1="501.6" x2="35.1" y2="501.6" stroke="#000" stroke-width="0.7" />
<text x="33.6" y="505.4" font-size="11.9" text-anchor="end" >0.8</text>
<line x1="37.5" y1="471.4" x2="35.1" y2="471.4" stroke="#000" stroke-width="0.7" />
<text x="33.6" y="475.2" font-size="11.9" text-anchor="end" >1.0</text>
<text x="54.7" y="635.1" font-size="11.9" text-anchor="end" textLength="10.8" lengthAdjust="spacingAndGlyphs">10</text>
<text x="54.8" y="631.5" font-size="8.3">1</text>
<text x="144.8" y="635.1" font-size="11.9" text-anchor="end" textLength="10.8" lengthAdjust="spacingAndGlyphs">10</text>
<text x="144.9" y="631.5" font-size="8.3">2</text>
<text x="234.9" y="635.1" font-size="11.9" text-anchor="end" textLength="10.8" lengthAdjust="spacingAndGlyphs">10</text>
<text x="235" y="631.5" font-size="8.3">3</text>
<text x="325" y="635.1" font-size="11.9" text-anchor="end" textLength="10.8" lengthAdjust="spacingAndGlyphs">10</text>
<text x="325.1" y="631.5" font-size="8.3">4</text>
<text x="126.6" y="464.9" font-size="11.9" text-anchor="middle" >0.1</text>
<text x="216.7" y="464.9" font-size="11.9" text-anchor="middle" >1.0</text>
<text x="306.8" y="464.9" font-size="11.9" text-anchor="middle" >10.0</text>
<text x="150.9" y="453.9" font-size="11.4" textLength="35.8" lengthAdjust="spacingAndGlyphs">Height [</text>
<text x="186.8" y="453.9" font-size="11.4" font-style="italic">r</text>
<text x="192.2" y="453.9" font-size="11.4">/</text>
<text x="197.4" y="453.9" font-size="11.4" font-style="italic">R</text>
<circle cx="209.3" cy="452.9" r="1.65" fill="none" stroke="#3a3a3a" stroke-width="0.65"/>
<circle cx="209.3" cy="452.9" r="0.45" fill="#3a3a3a"/>
<line x1="216.4" y1="451.2" x2="223.7" y2="451.2" stroke="#3a3a3a" stroke-width="0.7"/>
<text x="227.9" y="453.9" font-size="11.4">1]</text>
<text x="165.4" y="648.3" font-size="11.4" text-anchor="start" textLength="56.6" lengthAdjust="spacingAndGlyphs" >Height [Mm]</text>
<text transform="translate(14.6,593.4) rotate(-90)" font-size="11.6" textLength="93.6" lengthAdjust="spacingAndGlyphs">Fractional ionization</text>
<text x="60.1" y="529" font-size="11.4" text-anchor="start" textLength="97.7" lengthAdjust="spacingAndGlyphs" >Dynamic Equilibrium</text>
<text x="147.1" y="544.4" font-size="11.4" text-anchor="start" textLength="90" lengthAdjust="spacingAndGlyphs" >Transient Evolution</text>
<text x="230.4" y="560.1" font-size="11.4" text-anchor="start" textLength="105.6" lengthAdjust="spacingAndGlyphs" >Advected Discontinuity</text>
<polygon points="113.39,516.46 123.31,492 125.9,493.06 125.3,483.1 117.93,489.82 120.53,490.88 110.61,515.34" fill="#000"/>
<polygon points="194.8,532.75 206.27,513.03 208.69,514.44 209.5,504.5 201.26,510.12 203.68,511.52 192.2,531.25" fill="#000"/>
<polygon points="287.54,548.78 299.88,536.84 301.82,538.85 305.3,529.5 295.84,532.67 297.79,534.68 285.46,546.62" fill="#000"/>
<rect x="62.6" y="548.6" width="60" height="35.4" rx="2" ry="2" fill="#fff" fill-opacity="0.8" stroke="#d0d0d0" stroke-width="0.8"/>
<path d="M66.9,557.8 L90.4,557.8" fill="none" stroke="#000" stroke-width="1.15" stroke-linejoin="round" stroke-dasharray="6.15 1.54 0.96 1.54"/>
<line x1="66.6" y1="573.6" x2="90.6" y2="573.6" stroke="#000" stroke-width="1.15" />
<text x="99.2" y="562.2" font-size="11.5" font-style="italic">O</text><text x="107.6" y="558.6" font-size="8.2">6+</text>
<text x="99.2" y="577.6" font-size="11.5" font-style="italic">O</text><text x="107.6" y="574.0" font-size="8.2">7+</text>
</svg></body></html>
